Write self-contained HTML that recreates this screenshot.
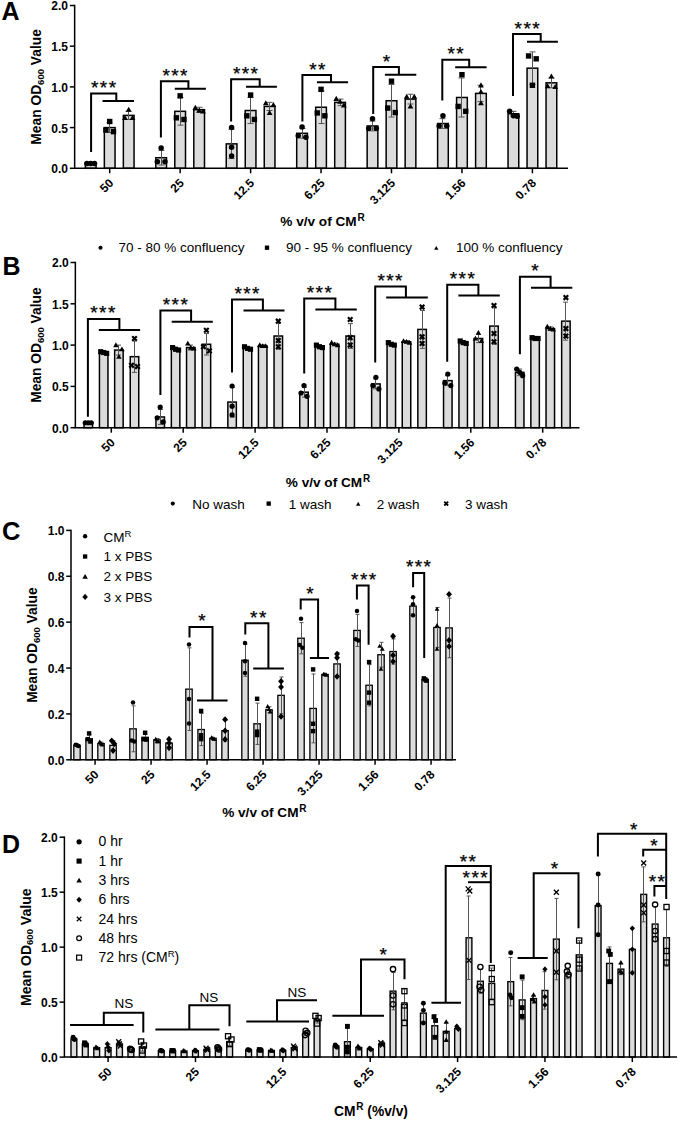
<!DOCTYPE html><html><head><meta charset="utf-8"><style>html,body{margin:0;padding:0;background:#fff;}svg{display:block;}text{font-family:"Liberation Sans",sans-serif;fill:#000;}</style></head><body>
<svg width="685" height="1131" viewBox="0 0 685 1131">
<rect width="685" height="1131" fill="#fff"/>
<rect x="85.35" y="163.42" width="10.70" height="4.88" fill="#dcdcdc" stroke="#000" stroke-width="1.5"/>
<rect x="104.35" y="127.60" width="10.70" height="40.70" fill="#dcdcdc" stroke="#000" stroke-width="1.5"/>
<rect x="123.35" y="115.39" width="10.70" height="52.91" fill="#dcdcdc" stroke="#000" stroke-width="1.5"/>
<path d="M90.50,163.01V163.82M87.50,163.01H93.50M87.50,163.82H93.50" stroke="#555" stroke-width="1" fill="none"/>
<circle cx="86.90" cy="163.42" r="2.75" fill="#000"/>
<circle cx="90.70" cy="163.42" r="2.75" fill="#000"/>
<circle cx="94.50" cy="163.42" r="2.75" fill="#000"/>
<path d="M109.50,122.72V132.48M106.50,122.72H112.50M106.50,132.48H112.50" stroke="#555" stroke-width="1" fill="none"/>
<rect x="107.00" y="118.80" width="5.40" height="5.40" fill="#000"/>
<rect x="103.20" y="127.34" width="5.40" height="5.40" fill="#000"/>
<rect x="110.80" y="128.97" width="5.40" height="5.40" fill="#000"/>
<path d="M128.50,111.32V119.46M125.50,111.32H131.50M125.50,119.46H131.50" stroke="#555" stroke-width="1" fill="none"/>
<path d="M128.70,106.79L131.60,111.87L125.80,111.87Z" fill="#000"/>
<path d="M124.90,114.93L127.80,120.01L122.00,120.01Z" fill="#000"/>
<path d="M132.50,114.93L135.40,120.01L129.60,120.01Z" fill="#000"/>
<rect x="155.80" y="157.72" width="10.70" height="10.58" fill="#dcdcdc" stroke="#000" stroke-width="1.5"/>
<rect x="174.80" y="111.32" width="10.70" height="56.98" fill="#dcdcdc" stroke="#000" stroke-width="1.5"/>
<rect x="193.80" y="109.69" width="10.70" height="58.61" fill="#dcdcdc" stroke="#000" stroke-width="1.5"/>
<path d="M161.50,150.39V165.04M158.50,150.39H164.50M158.50,165.04H164.50" stroke="#555" stroke-width="1" fill="none"/>
<circle cx="161.15" cy="147.95" r="2.75" fill="#000"/>
<circle cx="157.35" cy="161.79" r="2.75" fill="#000"/>
<circle cx="164.95" cy="161.79" r="2.75" fill="#000"/>
<path d="M180.50,97.48V125.16M177.50,97.48H183.50M177.50,125.16H183.50" stroke="#555" stroke-width="1" fill="none"/>
<rect x="177.45" y="93.15" width="5.40" height="5.40" fill="#000"/>
<rect x="173.65" y="115.13" width="5.40" height="5.40" fill="#000"/>
<rect x="181.25" y="116.76" width="5.40" height="5.40" fill="#000"/>
<path d="M199.50,107.25V112.13M196.50,107.25H202.50M196.50,112.13H202.50" stroke="#555" stroke-width="1" fill="none"/>
<path d="M195.35,104.76L198.25,109.83L192.45,109.83Z" fill="#000"/>
<path d="M202.95,108.42L205.85,113.50L200.05,113.50Z" fill="#000"/>
<path d="M199.15,107.61L202.05,112.68L196.25,112.68Z" fill="#000"/>
<rect x="226.25" y="143.88" width="10.70" height="24.42" fill="#dcdcdc" stroke="#000" stroke-width="1.5"/>
<rect x="245.25" y="110.51" width="10.70" height="57.79" fill="#dcdcdc" stroke="#000" stroke-width="1.5"/>
<rect x="264.25" y="106.44" width="10.70" height="61.86" fill="#dcdcdc" stroke="#000" stroke-width="1.5"/>
<path d="M231.50,129.23V158.53M228.50,129.23H234.50M228.50,158.53H234.50" stroke="#555" stroke-width="1" fill="none"/>
<circle cx="231.60" cy="127.60" r="2.75" fill="#000"/>
<circle cx="231.60" cy="147.14" r="2.75" fill="#000"/>
<circle cx="231.60" cy="156.09" r="2.75" fill="#000"/>
<path d="M250.50,97.48V123.53M247.50,97.48H253.50M247.50,123.53H253.50" stroke="#555" stroke-width="1" fill="none"/>
<rect x="247.90" y="92.34" width="5.40" height="5.40" fill="#000"/>
<rect x="244.10" y="113.10" width="5.40" height="5.40" fill="#000"/>
<rect x="251.70" y="116.76" width="5.40" height="5.40" fill="#000"/>
<path d="M269.50,102.37V110.51M266.50,102.37H272.50M266.50,110.51H272.50" stroke="#555" stroke-width="1" fill="none"/>
<path d="M265.80,100.28L268.70,105.36L262.90,105.36Z" fill="#000"/>
<path d="M273.40,101.91L276.30,106.98L270.50,106.98Z" fill="#000"/>
<path d="M269.60,110.05L272.50,115.12L266.70,115.12Z" fill="#000"/>
<rect x="296.70" y="133.30" width="10.70" height="35.00" fill="#dcdcdc" stroke="#000" stroke-width="1.5"/>
<rect x="315.70" y="107.25" width="10.70" height="61.05" fill="#dcdcdc" stroke="#000" stroke-width="1.5"/>
<rect x="334.70" y="102.37" width="10.70" height="65.93" fill="#dcdcdc" stroke="#000" stroke-width="1.5"/>
<path d="M302.50,128.41V138.18M299.50,128.41H305.50M299.50,138.18H305.50" stroke="#555" stroke-width="1" fill="none"/>
<circle cx="302.05" cy="127.11" r="2.75" fill="#000"/>
<circle cx="298.25" cy="135.74" r="2.75" fill="#000"/>
<circle cx="305.85" cy="137.37" r="2.75" fill="#000"/>
<path d="M321.50,90.97V123.53M318.50,90.97H324.50M318.50,123.53H324.50" stroke="#555" stroke-width="1" fill="none"/>
<rect x="318.35" y="86.64" width="5.40" height="5.40" fill="#000"/>
<rect x="314.55" y="110.25" width="5.40" height="5.40" fill="#000"/>
<rect x="322.15" y="113.10" width="5.40" height="5.40" fill="#000"/>
<path d="M340.50,99.11V105.62M337.50,99.11H343.50M337.50,105.62H343.50" stroke="#555" stroke-width="1" fill="none"/>
<path d="M336.25,95.80L339.15,100.88L333.35,100.88Z" fill="#000"/>
<path d="M340.05,98.65L342.95,103.73L337.15,103.73Z" fill="#000"/>
<path d="M343.85,102.31L346.75,107.39L340.95,107.39Z" fill="#000"/>
<rect x="367.15" y="125.97" width="10.70" height="42.33" fill="#dcdcdc" stroke="#000" stroke-width="1.5"/>
<rect x="386.15" y="100.74" width="10.70" height="67.56" fill="#dcdcdc" stroke="#000" stroke-width="1.5"/>
<rect x="405.15" y="99.11" width="10.70" height="69.19" fill="#dcdcdc" stroke="#000" stroke-width="1.5"/>
<path d="M372.50,121.09V130.86M369.50,121.09H375.50M369.50,130.86H375.50" stroke="#555" stroke-width="1" fill="none"/>
<circle cx="372.50" cy="118.65" r="2.75" fill="#000"/>
<circle cx="368.70" cy="128.41" r="2.75" fill="#000"/>
<circle cx="376.30" cy="128.41" r="2.75" fill="#000"/>
<path d="M391.50,84.46V117.02M388.50,84.46H394.50M388.50,117.02H394.50" stroke="#555" stroke-width="1" fill="none"/>
<rect x="388.80" y="78.50" width="5.40" height="5.40" fill="#000"/>
<rect x="385.00" y="105.36" width="5.40" height="5.40" fill="#000"/>
<rect x="392.60" y="109.84" width="5.40" height="5.40" fill="#000"/>
<path d="M410.50,94.23V103.99M407.50,94.23H413.50M407.50,103.99H413.50" stroke="#555" stroke-width="1" fill="none"/>
<path d="M406.70,93.77L409.60,98.84L403.80,98.84Z" fill="#000"/>
<path d="M414.30,93.77L417.20,98.84L411.40,98.84Z" fill="#000"/>
<path d="M410.50,103.54L413.40,108.61L407.60,108.61Z" fill="#000"/>
<rect x="437.60" y="123.53" width="10.70" height="44.77" fill="#dcdcdc" stroke="#000" stroke-width="1.5"/>
<rect x="456.60" y="97.48" width="10.70" height="70.82" fill="#dcdcdc" stroke="#000" stroke-width="1.5"/>
<rect x="475.60" y="93.41" width="10.70" height="74.89" fill="#dcdcdc" stroke="#000" stroke-width="1.5"/>
<path d="M442.50,118.65V128.41M439.50,118.65H445.50M439.50,128.41H445.50" stroke="#555" stroke-width="1" fill="none"/>
<circle cx="442.95" cy="115.80" r="2.75" fill="#000"/>
<circle cx="439.15" cy="125.97" r="2.75" fill="#000"/>
<circle cx="446.75" cy="125.97" r="2.75" fill="#000"/>
<path d="M461.50,77.95V117.02M458.50,77.95H464.50M458.50,117.02H464.50" stroke="#555" stroke-width="1" fill="none"/>
<rect x="459.25" y="71.99" width="5.40" height="5.40" fill="#000"/>
<rect x="455.45" y="103.74" width="5.40" height="5.40" fill="#000"/>
<rect x="463.05" y="108.62" width="5.40" height="5.40" fill="#000"/>
<path d="M480.50,85.27V101.55M477.50,85.27H483.50M477.50,101.55H483.50" stroke="#555" stroke-width="1" fill="none"/>
<path d="M480.95,82.37L483.85,87.45L478.05,87.45Z" fill="#000"/>
<path d="M480.95,88.88L483.85,93.96L478.05,93.96Z" fill="#000"/>
<path d="M480.95,100.28L483.85,105.36L478.05,105.36Z" fill="#000"/>
<rect x="508.05" y="113.76" width="10.70" height="54.54" fill="#dcdcdc" stroke="#000" stroke-width="1.5"/>
<rect x="527.05" y="68.18" width="10.70" height="100.12" fill="#dcdcdc" stroke="#000" stroke-width="1.5"/>
<rect x="546.05" y="82.83" width="10.70" height="85.47" fill="#dcdcdc" stroke="#000" stroke-width="1.5"/>
<path d="M513.50,111.32V116.20M510.50,111.32H516.50M510.50,116.20H516.50" stroke="#555" stroke-width="1" fill="none"/>
<circle cx="509.60" cy="111.32" r="2.75" fill="#000"/>
<circle cx="513.40" cy="115.80" r="2.75" fill="#000"/>
<circle cx="517.20" cy="116.20" r="2.75" fill="#000"/>
<path d="M532.50,51.90V84.46M529.50,51.90H535.50M529.50,84.46H535.50" stroke="#555" stroke-width="1" fill="none"/>
<rect x="525.90" y="53.27" width="5.40" height="5.40" fill="#000"/>
<rect x="533.50" y="56.12" width="5.40" height="5.40" fill="#000"/>
<rect x="529.70" y="82.57" width="5.40" height="5.40" fill="#000"/>
<path d="M551.50,77.95V87.71M548.50,77.95H554.50M548.50,87.71H554.50" stroke="#555" stroke-width="1" fill="none"/>
<path d="M551.40,73.42L554.30,78.49L548.50,78.49Z" fill="#000"/>
<path d="M547.60,83.19L550.50,88.26L544.70,88.26Z" fill="#000"/>
<path d="M555.20,84.00L558.10,89.08L552.30,89.08Z" fill="#000"/>
<path d="M74.65,4.75V168.30H568.00" stroke="#000" stroke-width="1.5" fill="none"/>
<path d="M69.85,168.30H74.65" stroke="#000" stroke-width="1.5"/>
<text x="68.05" y="173.20" font-size="12" font-weight="bold" text-anchor="end" >0.0</text>
<path d="M69.85,127.60H74.65" stroke="#000" stroke-width="1.5"/>
<text x="68.05" y="132.50" font-size="12" font-weight="bold" text-anchor="end" >0.5</text>
<path d="M69.85,86.90H74.65" stroke="#000" stroke-width="1.5"/>
<text x="68.05" y="91.80" font-size="12" font-weight="bold" text-anchor="end" >1.0</text>
<path d="M69.85,46.20H74.65" stroke="#000" stroke-width="1.5"/>
<text x="68.05" y="51.10" font-size="12" font-weight="bold" text-anchor="end" >1.5</text>
<path d="M69.85,5.50H74.65" stroke="#000" stroke-width="1.5"/>
<text x="68.05" y="10.40" font-size="12" font-weight="bold" text-anchor="end" >2.0</text>
<path d="M109.70,168.30V173.30" stroke="#000" stroke-width="1.5"/>
<text x="114.20" y="183.80" font-size="12" font-weight="bold" text-anchor="end" transform="rotate(-45 114.20 183.80)">50</text>
<path d="M180.15,168.30V173.30" stroke="#000" stroke-width="1.5"/>
<text x="184.65" y="183.80" font-size="12" font-weight="bold" text-anchor="end" transform="rotate(-45 184.65 183.80)">25</text>
<path d="M250.60,168.30V173.30" stroke="#000" stroke-width="1.5"/>
<text x="255.10" y="183.80" font-size="12" font-weight="bold" text-anchor="end" transform="rotate(-45 255.10 183.80)">12.5</text>
<path d="M321.05,168.30V173.30" stroke="#000" stroke-width="1.5"/>
<text x="325.55" y="183.80" font-size="12" font-weight="bold" text-anchor="end" transform="rotate(-45 325.55 183.80)">6.25</text>
<path d="M391.50,168.30V173.30" stroke="#000" stroke-width="1.5"/>
<text x="396.00" y="183.80" font-size="12" font-weight="bold" text-anchor="end" transform="rotate(-45 396.00 183.80)">3.125</text>
<path d="M461.95,168.30V173.30" stroke="#000" stroke-width="1.5"/>
<text x="466.45" y="183.80" font-size="12" font-weight="bold" text-anchor="end" transform="rotate(-45 466.45 183.80)">1.56</text>
<path d="M532.40,168.30V173.30" stroke="#000" stroke-width="1.5"/>
<text x="536.90" y="183.80" font-size="12" font-weight="bold" text-anchor="end" transform="rotate(-45 536.90 183.80)">0.78</text>
<text x="40.90" y="86.90" font-size="13.8" font-weight="bold" text-anchor="middle" transform="rotate(-90 40.90 86.90)">Mean OD<tspan font-size="9.5" dy="2.8">600</tspan><tspan dy="-2.8"> Value</tspan></text>
<path d="M91.1,151.9V93.4H116.3V101M102.5,101H134" stroke="#000" stroke-width="2.0" fill="none"/>
<text x="104.25" y="93.90" font-size="19" text-anchor="middle" letter-spacing="1.4" stroke="#000" stroke-width="0.25">***</text>
<path d="M160.9,137.6V81.3H188.4V88.7M174.8,88.7H205.9" stroke="#000" stroke-width="2.0" fill="none"/>
<text x="175.70" y="81.80" font-size="19" text-anchor="middle" letter-spacing="1.4" stroke="#000" stroke-width="0.25">***</text>
<path d="M231.1,121.4V79.3H259.7V86.7M246,86.7H276.9" stroke="#000" stroke-width="2.0" fill="none"/>
<text x="246.20" y="79.80" font-size="19" text-anchor="middle" letter-spacing="1.4" stroke="#000" stroke-width="0.25">***</text>
<path d="M302.4,121.4V75.1H331V82.3M317,82.3H348.1" stroke="#000" stroke-width="2.0" fill="none"/>
<text x="318.00" y="75.60" font-size="19" text-anchor="middle" letter-spacing="1.4" stroke="#000" stroke-width="0.25">**</text>
<path d="M373.2,114V67.1H398.9V74.7M384.9,74.7H416.3" stroke="#000" stroke-width="2.0" fill="none"/>
<text x="387.20" y="67.60" font-size="19" text-anchor="middle" letter-spacing="1.4" stroke="#000" stroke-width="0.25">*</text>
<path d="M442.3,100.5V59.8H469.2V67.3M455.2,67.3H486.6" stroke="#000" stroke-width="2.0" fill="none"/>
<text x="456.30" y="60.30" font-size="19" text-anchor="middle" letter-spacing="1.4" stroke="#000" stroke-width="0.25">**</text>
<path d="M513,96V34.1H540.7V41.8M527,41.8H557.9" stroke="#000" stroke-width="2.0" fill="none"/>
<text x="527.80" y="34.60" font-size="19" text-anchor="middle" letter-spacing="1.4" stroke="#000" stroke-width="0.25">***</text>
<rect x="84.05" y="422.74" width="8.50" height="4.96" fill="#dcdcdc" stroke="#000" stroke-width="1.5"/>
<rect x="99.45" y="352.53" width="8.50" height="75.17" fill="#dcdcdc" stroke="#000" stroke-width="1.5"/>
<rect x="114.65" y="350.06" width="8.50" height="77.64" fill="#dcdcdc" stroke="#000" stroke-width="1.5"/>
<rect x="130.25" y="356.66" width="8.50" height="71.04" fill="#dcdcdc" stroke="#000" stroke-width="1.5"/>
<path d="M88.50,422.33V423.16M86.00,422.33H91.00M86.00,423.16H91.00" stroke="#555" stroke-width="1" fill="none"/>
<circle cx="85.30" cy="422.74" r="2.61" fill="#000"/>
<circle cx="88.30" cy="422.74" r="2.61" fill="#000"/>
<circle cx="91.30" cy="422.74" r="2.61" fill="#000"/>
<path d="M103.50,351.71V353.36M101.00,351.71H106.00M101.00,353.36H106.00" stroke="#555" stroke-width="1" fill="none"/>
<rect x="98.14" y="349.14" width="5.13" height="5.13" fill="#000"/>
<rect x="101.14" y="349.97" width="5.13" height="5.13" fill="#000"/>
<rect x="104.14" y="350.80" width="5.13" height="5.13" fill="#000"/>
<path d="M118.50,345.10V355.01M116.00,345.10H121.00M116.00,355.01H121.00" stroke="#555" stroke-width="1" fill="none"/>
<path d="M115.90,342.35L118.65,347.17L113.14,347.17Z" fill="#000"/>
<path d="M121.90,346.48L124.65,351.30L119.14,351.30Z" fill="#000"/>
<path d="M118.90,353.91L121.65,358.73L116.14,358.73Z" fill="#000"/>
<path d="M134.50,340.97V372.36M132.00,340.97H137.00M132.00,372.36H137.00" stroke="#555" stroke-width="1" fill="none"/>
<path d="M132.22,336.21L136.78,340.77M136.78,336.21L132.22,340.77" stroke="#000" stroke-width="2.18" fill="none"/>
<path d="M129.22,363.06L133.78,367.62M133.78,363.06L129.22,367.62" stroke="#000" stroke-width="2.18" fill="none"/>
<path d="M135.22,364.30L139.78,368.86M139.78,364.30L135.22,368.86" stroke="#000" stroke-width="2.18" fill="none"/>
<rect x="155.95" y="416.96" width="8.50" height="10.74" fill="#dcdcdc" stroke="#000" stroke-width="1.5"/>
<rect x="171.35" y="349.23" width="8.50" height="78.47" fill="#dcdcdc" stroke="#000" stroke-width="1.5"/>
<rect x="186.55" y="347.58" width="8.50" height="80.12" fill="#dcdcdc" stroke="#000" stroke-width="1.5"/>
<rect x="202.15" y="344.27" width="8.50" height="83.43" fill="#dcdcdc" stroke="#000" stroke-width="1.5"/>
<path d="M160.50,409.53V424.40M158.00,409.53H163.00M158.00,424.40H163.00" stroke="#555" stroke-width="1" fill="none"/>
<circle cx="160.20" cy="407.05" r="2.61" fill="#000"/>
<circle cx="157.20" cy="417.79" r="2.61" fill="#000"/>
<circle cx="163.20" cy="421.92" r="2.61" fill="#000"/>
<path d="M175.50,347.58V350.88M173.00,347.58H178.00M173.00,350.88H178.00" stroke="#555" stroke-width="1" fill="none"/>
<rect x="170.03" y="345.01" width="5.13" height="5.13" fill="#000"/>
<rect x="173.03" y="346.67" width="5.13" height="5.13" fill="#000"/>
<rect x="176.03" y="347.49" width="5.13" height="5.13" fill="#000"/>
<path d="M190.50,345.10V350.06M188.00,345.10H193.00M188.00,350.06H193.00" stroke="#555" stroke-width="1" fill="none"/>
<path d="M187.80,340.69L190.55,345.51L185.04,345.51Z" fill="#000"/>
<path d="M190.80,344.82L193.55,349.64L188.04,349.64Z" fill="#000"/>
<path d="M193.80,345.65L196.55,350.47L191.04,350.47Z" fill="#000"/>
<path d="M206.50,333.54V355.01M204.00,333.54H209.00M204.00,355.01H209.00" stroke="#555" stroke-width="1" fill="none"/>
<path d="M204.12,327.95L208.68,332.51M208.68,327.95L204.12,332.51" stroke="#000" stroke-width="2.18" fill="none"/>
<path d="M201.12,344.47L205.68,349.03M205.68,344.47L201.12,349.03" stroke="#000" stroke-width="2.18" fill="none"/>
<path d="M207.12,348.60L211.68,353.16M211.68,348.60L207.12,353.16" stroke="#000" stroke-width="2.18" fill="none"/>
<rect x="227.85" y="402.09" width="8.50" height="25.61" fill="#dcdcdc" stroke="#000" stroke-width="1.5"/>
<rect x="243.25" y="348.40" width="8.50" height="79.30" fill="#dcdcdc" stroke="#000" stroke-width="1.5"/>
<rect x="258.45" y="345.93" width="8.50" height="81.77" fill="#dcdcdc" stroke="#000" stroke-width="1.5"/>
<rect x="274.05" y="336.01" width="8.50" height="91.69" fill="#dcdcdc" stroke="#000" stroke-width="1.5"/>
<path d="M232.50,387.23V416.96M230.00,387.23H235.00M230.00,416.96H235.00" stroke="#555" stroke-width="1" fill="none"/>
<circle cx="232.10" cy="385.99" r="2.61" fill="#000"/>
<circle cx="232.10" cy="406.22" r="2.61" fill="#000"/>
<circle cx="232.10" cy="414.90" r="2.61" fill="#000"/>
<path d="M247.50,346.75V350.06M245.00,346.75H250.00M245.00,350.06H250.00" stroke="#555" stroke-width="1" fill="none"/>
<rect x="241.94" y="344.19" width="5.13" height="5.13" fill="#000"/>
<rect x="244.94" y="345.84" width="5.13" height="5.13" fill="#000"/>
<rect x="247.94" y="346.67" width="5.13" height="5.13" fill="#000"/>
<path d="M262.50,344.69V347.16M260.00,344.69H265.00M260.00,347.16H265.00" stroke="#555" stroke-width="1" fill="none"/>
<path d="M259.70,342.35L262.46,347.17L256.95,347.17Z" fill="#000"/>
<path d="M262.70,343.17L265.46,347.99L259.95,347.99Z" fill="#000"/>
<path d="M265.70,343.17L268.46,347.99L262.95,347.99Z" fill="#000"/>
<path d="M278.50,322.80V349.23M276.00,322.80H281.00M276.00,349.23H281.00" stroke="#555" stroke-width="1" fill="none"/>
<path d="M276.02,318.87L280.58,323.43M280.58,318.87L276.02,323.43" stroke="#000" stroke-width="2.18" fill="none"/>
<path d="M276.02,338.28L280.58,342.84M280.58,338.28L276.02,342.84" stroke="#000" stroke-width="2.18" fill="none"/>
<path d="M276.02,344.47L280.58,349.03M280.58,344.47L276.02,349.03" stroke="#000" stroke-width="2.18" fill="none"/>
<rect x="299.75" y="392.18" width="8.50" height="35.52" fill="#dcdcdc" stroke="#000" stroke-width="1.5"/>
<rect x="315.15" y="346.75" width="8.50" height="80.95" fill="#dcdcdc" stroke="#000" stroke-width="1.5"/>
<rect x="330.35" y="344.27" width="8.50" height="83.43" fill="#dcdcdc" stroke="#000" stroke-width="1.5"/>
<rect x="345.95" y="336.01" width="8.50" height="91.69" fill="#dcdcdc" stroke="#000" stroke-width="1.5"/>
<path d="M304.50,387.23V397.14M302.00,387.23H307.00M302.00,397.14H307.00" stroke="#555" stroke-width="1" fill="none"/>
<circle cx="304.00" cy="385.57" r="2.61" fill="#000"/>
<circle cx="301.00" cy="393.01" r="2.61" fill="#000"/>
<circle cx="307.00" cy="396.31" r="2.61" fill="#000"/>
<path d="M319.50,345.10V348.40M317.00,345.10H322.00M317.00,348.40H322.00" stroke="#555" stroke-width="1" fill="none"/>
<rect x="313.83" y="342.54" width="5.13" height="5.13" fill="#000"/>
<rect x="316.83" y="344.19" width="5.13" height="5.13" fill="#000"/>
<rect x="319.83" y="345.01" width="5.13" height="5.13" fill="#000"/>
<path d="M334.50,343.03V345.51M332.00,343.03H337.00M332.00,345.51H337.00" stroke="#555" stroke-width="1" fill="none"/>
<path d="M331.60,339.87L334.36,344.69L328.85,344.69Z" fill="#000"/>
<path d="M334.60,341.52L337.36,346.34L331.85,346.34Z" fill="#000"/>
<path d="M337.60,342.35L340.36,347.17L334.85,347.17Z" fill="#000"/>
<path d="M350.50,323.62V348.40M348.00,323.62H353.00M348.00,348.40H353.00" stroke="#555" stroke-width="1" fill="none"/>
<path d="M347.92,317.21L352.48,321.77M352.48,317.21L347.92,321.77" stroke="#000" stroke-width="2.18" fill="none"/>
<path d="M347.92,335.39L352.48,339.95M352.48,335.39L347.92,339.95" stroke="#000" stroke-width="2.18" fill="none"/>
<path d="M347.92,342.82L352.48,347.38M352.48,342.82L347.92,347.38" stroke="#000" stroke-width="2.18" fill="none"/>
<rect x="371.65" y="383.92" width="8.50" height="43.78" fill="#dcdcdc" stroke="#000" stroke-width="1.5"/>
<rect x="387.05" y="344.27" width="8.50" height="83.43" fill="#dcdcdc" stroke="#000" stroke-width="1.5"/>
<rect x="402.25" y="341.80" width="8.50" height="85.90" fill="#dcdcdc" stroke="#000" stroke-width="1.5"/>
<rect x="417.85" y="329.41" width="8.50" height="98.29" fill="#dcdcdc" stroke="#000" stroke-width="1.5"/>
<path d="M375.50,378.97V388.88M373.00,378.97H378.00M373.00,388.88H378.00" stroke="#555" stroke-width="1" fill="none"/>
<circle cx="375.90" cy="377.31" r="2.61" fill="#000"/>
<circle cx="372.90" cy="385.57" r="2.61" fill="#000"/>
<circle cx="378.90" cy="388.88" r="2.61" fill="#000"/>
<path d="M391.50,343.03V345.51M389.00,343.03H394.00M389.00,345.51H394.00" stroke="#555" stroke-width="1" fill="none"/>
<rect x="385.74" y="340.06" width="5.13" height="5.13" fill="#000"/>
<rect x="388.74" y="341.71" width="5.13" height="5.13" fill="#000"/>
<rect x="391.74" y="342.54" width="5.13" height="5.13" fill="#000"/>
<path d="M406.50,340.56V343.03M404.00,340.56H409.00M404.00,343.03H409.00" stroke="#555" stroke-width="1" fill="none"/>
<path d="M403.50,338.21L406.26,343.04L400.75,343.04Z" fill="#000"/>
<path d="M406.50,339.04L409.26,343.86L403.75,343.86Z" fill="#000"/>
<path d="M409.50,339.87L412.26,344.69L406.75,344.69Z" fill="#000"/>
<path d="M422.50,310.41V348.40M420.00,310.41H425.00M420.00,348.40H425.00" stroke="#555" stroke-width="1" fill="none"/>
<path d="M419.82,304.82L424.38,309.38M424.38,304.82L419.82,309.38" stroke="#000" stroke-width="2.18" fill="none"/>
<path d="M419.82,334.56L424.38,339.12M424.38,334.56L419.82,339.12" stroke="#000" stroke-width="2.18" fill="none"/>
<path d="M419.82,341.17L424.38,345.73M424.38,341.17L419.82,345.73" stroke="#000" stroke-width="2.18" fill="none"/>
<rect x="443.55" y="380.62" width="8.50" height="47.08" fill="#dcdcdc" stroke="#000" stroke-width="1.5"/>
<rect x="458.95" y="342.62" width="8.50" height="85.08" fill="#dcdcdc" stroke="#000" stroke-width="1.5"/>
<rect x="474.15" y="338.49" width="8.50" height="89.21" fill="#dcdcdc" stroke="#000" stroke-width="1.5"/>
<rect x="489.75" y="326.10" width="8.50" height="101.60" fill="#dcdcdc" stroke="#000" stroke-width="1.5"/>
<path d="M447.50,375.66V385.57M445.00,375.66H450.00M445.00,385.57H450.00" stroke="#555" stroke-width="1" fill="none"/>
<circle cx="447.80" cy="374.01" r="2.61" fill="#000"/>
<circle cx="444.80" cy="383.10" r="2.61" fill="#000"/>
<circle cx="450.80" cy="385.57" r="2.61" fill="#000"/>
<path d="M463.50,341.38V343.86M461.00,341.38H466.00M461.00,343.86H466.00" stroke="#555" stroke-width="1" fill="none"/>
<rect x="457.63" y="338.40" width="5.13" height="5.13" fill="#000"/>
<rect x="460.63" y="340.06" width="5.13" height="5.13" fill="#000"/>
<rect x="463.63" y="340.88" width="5.13" height="5.13" fill="#000"/>
<path d="M478.50,334.36V342.62M476.00,334.36H481.00M476.00,342.62H481.00" stroke="#555" stroke-width="1" fill="none"/>
<path d="M478.40,329.96L481.16,334.78L475.65,334.78Z" fill="#000"/>
<path d="M475.40,335.74L478.16,340.56L472.65,340.56Z" fill="#000"/>
<path d="M481.40,338.21L484.16,343.04L478.65,343.04Z" fill="#000"/>
<path d="M494.50,307.93V344.27M492.00,307.93H497.00M492.00,344.27H497.00" stroke="#555" stroke-width="1" fill="none"/>
<path d="M491.72,303.17L496.28,307.73M496.28,303.17L491.72,307.73" stroke="#000" stroke-width="2.18" fill="none"/>
<path d="M491.72,331.26L496.28,335.82M496.28,331.26L491.72,335.82" stroke="#000" stroke-width="2.18" fill="none"/>
<path d="M491.72,339.52L496.28,344.08M496.28,339.52L491.72,344.08" stroke="#000" stroke-width="2.18" fill="none"/>
<rect x="515.45" y="372.36" width="8.50" height="55.34" fill="#dcdcdc" stroke="#000" stroke-width="1.5"/>
<rect x="530.85" y="338.49" width="8.50" height="89.21" fill="#dcdcdc" stroke="#000" stroke-width="1.5"/>
<rect x="546.05" y="328.58" width="8.50" height="99.12" fill="#dcdcdc" stroke="#000" stroke-width="1.5"/>
<rect x="561.65" y="321.15" width="8.50" height="106.55" fill="#dcdcdc" stroke="#000" stroke-width="1.5"/>
<path d="M519.50,369.05V375.66M517.00,369.05H522.00M517.00,375.66H522.00" stroke="#555" stroke-width="1" fill="none"/>
<circle cx="516.70" cy="369.05" r="2.61" fill="#000"/>
<circle cx="519.70" cy="372.36" r="2.61" fill="#000"/>
<circle cx="522.70" cy="375.66" r="2.61" fill="#000"/>
<path d="M535.50,337.67V339.32M533.00,337.67H538.00M533.00,339.32H538.00" stroke="#555" stroke-width="1" fill="none"/>
<rect x="529.53" y="335.10" width="5.13" height="5.13" fill="#000"/>
<rect x="532.53" y="335.93" width="5.13" height="5.13" fill="#000"/>
<rect x="535.53" y="335.93" width="5.13" height="5.13" fill="#000"/>
<path d="M550.50,326.93V330.23M548.00,326.93H553.00M548.00,330.23H553.00" stroke="#555" stroke-width="1" fill="none"/>
<path d="M547.30,323.76L550.06,328.58L544.55,328.58Z" fill="#000"/>
<path d="M550.30,325.82L553.06,330.65L547.55,330.65Z" fill="#000"/>
<path d="M553.30,326.65L556.06,331.47L550.55,331.47Z" fill="#000"/>
<path d="M565.50,302.15V340.14M563.00,302.15H568.00M563.00,340.14H568.00" stroke="#555" stroke-width="1" fill="none"/>
<path d="M563.62,295.33L568.18,299.88M568.18,295.33L563.62,299.88" stroke="#000" stroke-width="2.18" fill="none"/>
<path d="M563.62,326.30L568.18,330.86M568.18,326.30L563.62,330.86" stroke="#000" stroke-width="2.18" fill="none"/>
<path d="M563.62,333.73L568.18,338.29M568.18,333.73L563.62,338.29" stroke="#000" stroke-width="2.18" fill="none"/>
<path d="M75.35,261.75V427.70H579.50" stroke="#000" stroke-width="1.5" fill="none"/>
<path d="M70.55,427.70H75.35" stroke="#000" stroke-width="1.5"/>
<text x="68.75" y="432.60" font-size="12" font-weight="bold" text-anchor="end" >0.0</text>
<path d="M70.55,386.40H75.35" stroke="#000" stroke-width="1.5"/>
<text x="68.75" y="391.30" font-size="12" font-weight="bold" text-anchor="end" >0.5</text>
<path d="M70.55,345.10H75.35" stroke="#000" stroke-width="1.5"/>
<text x="68.75" y="350.00" font-size="12" font-weight="bold" text-anchor="end" >1.0</text>
<path d="M70.55,303.80H75.35" stroke="#000" stroke-width="1.5"/>
<text x="68.75" y="308.70" font-size="12" font-weight="bold" text-anchor="end" >1.5</text>
<path d="M70.55,262.50H75.35" stroke="#000" stroke-width="1.5"/>
<text x="68.75" y="267.40" font-size="12" font-weight="bold" text-anchor="end" >2.0</text>
<path d="M111.30,427.70V432.70" stroke="#000" stroke-width="1.5"/>
<text x="115.80" y="443.20" font-size="12" font-weight="bold" text-anchor="end" transform="rotate(-45 115.80 443.20)">50</text>
<path d="M183.20,427.70V432.70" stroke="#000" stroke-width="1.5"/>
<text x="187.70" y="443.20" font-size="12" font-weight="bold" text-anchor="end" transform="rotate(-45 187.70 443.20)">25</text>
<path d="M255.10,427.70V432.70" stroke="#000" stroke-width="1.5"/>
<text x="259.60" y="443.20" font-size="12" font-weight="bold" text-anchor="end" transform="rotate(-45 259.60 443.20)">12.5</text>
<path d="M327.00,427.70V432.70" stroke="#000" stroke-width="1.5"/>
<text x="331.50" y="443.20" font-size="12" font-weight="bold" text-anchor="end" transform="rotate(-45 331.50 443.20)">6.25</text>
<path d="M398.90,427.70V432.70" stroke="#000" stroke-width="1.5"/>
<text x="403.40" y="443.20" font-size="12" font-weight="bold" text-anchor="end" transform="rotate(-45 403.40 443.20)">3.125</text>
<path d="M470.80,427.70V432.70" stroke="#000" stroke-width="1.5"/>
<text x="475.30" y="443.20" font-size="12" font-weight="bold" text-anchor="end" transform="rotate(-45 475.30 443.20)">1.56</text>
<path d="M542.70,427.70V432.70" stroke="#000" stroke-width="1.5"/>
<text x="547.20" y="443.20" font-size="12" font-weight="bold" text-anchor="end" transform="rotate(-45 547.20 443.20)">0.78</text>
<text x="40.90" y="345.10" font-size="13.8" font-weight="bold" text-anchor="middle" transform="rotate(-90 40.90 345.10)">Mean OD<tspan font-size="9.5" dy="2.8">600</tspan><tspan dy="-2.8"> Value</tspan></text>
<path d="M87.9,416.7V318.9H119.4V329.9M98.8,329.9H140.1" stroke="#000" stroke-width="2.0" fill="none"/>
<text x="103.50" y="319.40" font-size="19" text-anchor="middle" letter-spacing="1.4" stroke="#000" stroke-width="0.25">***</text>
<path d="M160.4,395V310.4H191.1V321.7M171.7,321.7H212.8" stroke="#000" stroke-width="2.0" fill="none"/>
<text x="176.00" y="310.90" font-size="19" text-anchor="middle" letter-spacing="1.4" stroke="#000" stroke-width="0.25">***</text>
<path d="M232,372.6V299.4H262.9V310.5M243.5,310.5H284.5" stroke="#000" stroke-width="2.0" fill="none"/>
<text x="247.60" y="299.90" font-size="19" text-anchor="middle" letter-spacing="1.4" stroke="#000" stroke-width="0.25">***</text>
<path d="M304.2,373.5V298.4H335.4V309.5M315.4,309.5H356.8" stroke="#000" stroke-width="2.0" fill="none"/>
<text x="320.00" y="298.90" font-size="19" text-anchor="middle" letter-spacing="1.4" stroke="#000" stroke-width="0.25">***</text>
<path d="M375.2,362.4V286.4H405.9V297.6M386.2,297.6H427.8" stroke="#000" stroke-width="2.0" fill="none"/>
<text x="390.70" y="286.90" font-size="19" text-anchor="middle" letter-spacing="1.4" stroke="#000" stroke-width="0.25">***</text>
<path d="M447.2,361.8V284.7H478.4V295.6M458.4,295.6H499.8" stroke="#000" stroke-width="2.0" fill="none"/>
<text x="463.00" y="285.20" font-size="19" text-anchor="middle" letter-spacing="1.4" stroke="#000" stroke-width="0.25">***</text>
<path d="M519.9,354.2V276.7H550.6V287.8M531,287.8H572.3" stroke="#000" stroke-width="2.0" fill="none"/>
<text x="535.60" y="277.20" font-size="19" text-anchor="middle" letter-spacing="1.4" stroke="#000" stroke-width="0.25">*</text>
<rect x="73.80" y="745.35" width="6.40" height="14.45" fill="#dcdcdc" stroke="#000" stroke-width="1.3"/>
<rect x="85.90" y="738.70" width="6.40" height="21.10" fill="#dcdcdc" stroke="#000" stroke-width="1.3"/>
<rect x="97.80" y="743.51" width="6.40" height="16.29" fill="#dcdcdc" stroke="#000" stroke-width="1.3"/>
<rect x="109.85" y="745.35" width="6.40" height="14.45" fill="#dcdcdc" stroke="#000" stroke-width="1.3"/>
<circle cx="75.70" cy="744.66" r="2.25" fill="#000"/>
<circle cx="77.00" cy="745.35" r="2.25" fill="#000"/>
<circle cx="78.30" cy="746.04" r="2.25" fill="#000"/>
<path d="M89.50,734.57V742.82M87.50,734.57H91.50M87.50,742.82H91.50" stroke="#555" stroke-width="1" fill="none"/>
<rect x="86.89" y="731.20" width="4.43" height="4.43" fill="#000"/>
<rect x="85.59" y="736.94" width="4.43" height="4.43" fill="#000"/>
<rect x="88.19" y="739.23" width="4.43" height="4.43" fill="#000"/>
<path d="M101.50,742.14V744.89M99.50,742.14H103.50M99.50,744.89H103.50" stroke="#555" stroke-width="1" fill="none"/>
<path d="M99.70,739.53L102.08,743.69L97.32,743.69Z" fill="#000"/>
<path d="M101.00,741.36L103.38,745.53L98.62,745.53Z" fill="#000"/>
<path d="M102.30,742.28L104.68,746.44L99.92,746.44Z" fill="#000"/>
<path d="M113.50,740.76V749.94M111.50,740.76H115.50M111.50,749.94H115.50" stroke="#555" stroke-width="1" fill="none"/>
<path d="M111.75,737.48L114.70,740.76L111.75,744.04L108.80,740.76Z" fill="#000"/>
<path d="M113.05,747.34L116.00,750.62L113.05,753.90L110.10,750.62Z" fill="#000"/>
<path d="M114.35,740.46L117.30,743.74L114.35,747.02L111.40,743.74Z" fill="#000"/>
<rect x="129.80" y="728.83" width="6.40" height="30.97" fill="#dcdcdc" stroke="#000" stroke-width="1.3"/>
<rect x="141.90" y="737.32" width="6.40" height="22.48" fill="#dcdcdc" stroke="#000" stroke-width="1.3"/>
<rect x="153.80" y="739.84" width="6.40" height="19.96" fill="#dcdcdc" stroke="#000" stroke-width="1.3"/>
<rect x="165.85" y="743.05" width="6.40" height="16.75" fill="#dcdcdc" stroke="#000" stroke-width="1.3"/>
<path d="M133.50,705.89V751.77M131.50,705.89H135.50M131.50,751.77H135.50" stroke="#555" stroke-width="1" fill="none"/>
<circle cx="133.00" cy="702.45" r="2.25" fill="#000"/>
<circle cx="131.70" cy="740.53" r="2.25" fill="#000"/>
<circle cx="134.30" cy="741.45" r="2.25" fill="#000"/>
<path d="M145.50,733.88V740.76M143.50,733.88H147.50M143.50,740.76H147.50" stroke="#555" stroke-width="1" fill="none"/>
<rect x="142.89" y="730.52" width="4.43" height="4.43" fill="#000"/>
<rect x="141.59" y="736.94" width="4.43" height="4.43" fill="#000"/>
<rect x="144.19" y="737.40" width="4.43" height="4.43" fill="#000"/>
<path d="M157.50,738.47V741.22M155.50,738.47H159.50M155.50,741.22H159.50" stroke="#555" stroke-width="1" fill="none"/>
<path d="M155.70,736.78L158.08,740.94L153.32,740.94Z" fill="#000"/>
<path d="M157.00,739.07L159.38,743.23L154.62,743.23Z" fill="#000"/>
<path d="M158.30,739.07L160.68,743.23L155.92,743.23Z" fill="#000"/>
<path d="M169.50,738.92V747.18M167.50,738.92H171.50M167.50,747.18H171.50" stroke="#555" stroke-width="1" fill="none"/>
<path d="M169.05,735.87L172.00,739.15L169.05,742.43L166.10,739.15Z" fill="#000"/>
<path d="M169.05,739.77L172.00,743.05L169.05,746.33L166.10,743.05Z" fill="#000"/>
<path d="M169.05,744.59L172.00,747.87L169.05,751.15L166.10,747.87Z" fill="#000"/>
<rect x="185.80" y="689.14" width="6.40" height="70.66" fill="#dcdcdc" stroke="#000" stroke-width="1.3"/>
<rect x="197.90" y="729.52" width="6.40" height="30.28" fill="#dcdcdc" stroke="#000" stroke-width="1.3"/>
<rect x="209.80" y="738.24" width="6.40" height="21.56" fill="#dcdcdc" stroke="#000" stroke-width="1.3"/>
<rect x="221.85" y="730.67" width="6.40" height="29.13" fill="#dcdcdc" stroke="#000" stroke-width="1.3"/>
<path d="M189.50,647.85V730.44M187.50,647.85H191.50M187.50,730.44H191.50" stroke="#555" stroke-width="1" fill="none"/>
<circle cx="189.00" cy="644.41" r="2.25" fill="#000"/>
<circle cx="189.00" cy="699.01" r="2.25" fill="#000"/>
<circle cx="189.00" cy="723.55" r="2.25" fill="#000"/>
<path d="M201.50,713.46V745.58M199.50,713.46H203.50M199.50,745.58H203.50" stroke="#555" stroke-width="1" fill="none"/>
<rect x="198.89" y="708.72" width="4.43" height="4.43" fill="#000"/>
<rect x="198.89" y="733.04" width="4.43" height="4.43" fill="#000"/>
<rect x="198.89" y="736.94" width="4.43" height="4.43" fill="#000"/>
<path d="M211.70,735.17L214.08,739.33L209.32,739.33Z" fill="#000"/>
<path d="M213.00,736.09L215.38,740.25L210.62,740.25Z" fill="#000"/>
<path d="M214.30,736.78L216.68,740.94L211.92,740.94Z" fill="#000"/>
<path d="M225.50,720.34V740.99M223.50,720.34H227.50M223.50,740.99H227.50" stroke="#555" stroke-width="1" fill="none"/>
<path d="M225.05,716.15L228.00,719.43L225.05,722.71L222.10,719.43Z" fill="#000"/>
<path d="M225.05,727.39L228.00,730.67L225.05,733.95L222.10,730.67Z" fill="#000"/>
<path d="M225.05,736.10L228.00,739.38L225.05,742.66L222.10,739.38Z" fill="#000"/>
<rect x="241.80" y="660.24" width="6.40" height="99.56" fill="#dcdcdc" stroke="#000" stroke-width="1.3"/>
<rect x="253.90" y="723.78" width="6.40" height="36.02" fill="#dcdcdc" stroke="#000" stroke-width="1.3"/>
<rect x="265.80" y="709.79" width="6.40" height="50.01" fill="#dcdcdc" stroke="#000" stroke-width="1.3"/>
<rect x="277.85" y="695.34" width="6.40" height="64.46" fill="#dcdcdc" stroke="#000" stroke-width="1.3"/>
<path d="M245.50,644.18V676.30M243.50,644.18H247.50M243.50,676.30H247.50" stroke="#555" stroke-width="1" fill="none"/>
<circle cx="245.00" cy="643.04" r="2.25" fill="#000"/>
<circle cx="245.00" cy="661.16" r="2.25" fill="#000"/>
<circle cx="245.00" cy="673.09" r="2.25" fill="#000"/>
<path d="M257.50,703.14V744.43M255.50,703.14H259.50M255.50,744.43H259.50" stroke="#555" stroke-width="1" fill="none"/>
<rect x="254.89" y="696.57" width="4.43" height="4.43" fill="#000"/>
<rect x="254.89" y="729.37" width="4.43" height="4.43" fill="#000"/>
<rect x="254.89" y="732.81" width="4.43" height="4.43" fill="#000"/>
<path d="M269.50,706.81V712.77M267.50,706.81H271.50M267.50,712.77H271.50" stroke="#555" stroke-width="1" fill="none"/>
<path d="M267.70,703.97L270.08,708.13L265.32,708.13Z" fill="#000"/>
<path d="M269.00,706.95L271.38,711.12L266.62,711.12Z" fill="#000"/>
<path d="M270.30,709.25L272.68,713.41L267.92,713.41Z" fill="#000"/>
<path d="M281.50,676.99V713.69M279.50,676.99H283.50M279.50,713.69H283.50" stroke="#555" stroke-width="1" fill="none"/>
<path d="M281.05,678.07L284.00,681.35L281.05,684.63L278.10,681.35Z" fill="#000"/>
<path d="M281.05,683.80L284.00,687.08L281.05,690.36L278.10,687.08Z" fill="#000"/>
<path d="M281.05,713.16L284.00,716.44L281.05,719.72L278.10,716.44Z" fill="#000"/>
<rect x="297.80" y="638.22" width="6.40" height="121.58" fill="#dcdcdc" stroke="#000" stroke-width="1.3"/>
<rect x="309.90" y="708.41" width="6.40" height="51.39" fill="#dcdcdc" stroke="#000" stroke-width="1.3"/>
<rect x="321.80" y="674.46" width="6.40" height="85.34" fill="#dcdcdc" stroke="#000" stroke-width="1.3"/>
<rect x="333.85" y="663.91" width="6.40" height="95.89" fill="#dcdcdc" stroke="#000" stroke-width="1.3"/>
<path d="M301.50,622.62V653.82M299.50,622.62H303.50M299.50,653.82H303.50" stroke="#555" stroke-width="1" fill="none"/>
<circle cx="301.00" cy="618.72" r="2.25" fill="#000"/>
<circle cx="299.70" cy="645.10" r="2.25" fill="#000"/>
<circle cx="302.30" cy="647.85" r="2.25" fill="#000"/>
<path d="M313.50,674.00V742.82M311.50,674.00H315.50M311.50,742.82H315.50" stroke="#555" stroke-width="1" fill="none"/>
<rect x="310.89" y="667.20" width="4.43" height="4.43" fill="#000"/>
<rect x="310.89" y="721.57" width="4.43" height="4.43" fill="#000"/>
<rect x="310.89" y="728.91" width="4.43" height="4.43" fill="#000"/>
<path d="M323.70,671.63L326.08,675.79L321.32,675.79Z" fill="#000"/>
<path d="M325.00,672.09L327.38,676.25L322.62,676.25Z" fill="#000"/>
<path d="M326.30,672.54L328.68,676.71L323.92,676.71Z" fill="#000"/>
<path d="M337.50,652.44V675.38M335.50,652.44H339.50M335.50,675.38H339.50" stroke="#555" stroke-width="1" fill="none"/>
<path d="M337.05,650.77L340.00,654.05L337.05,657.33L334.10,654.05Z" fill="#000"/>
<path d="M337.05,654.44L340.00,657.72L337.05,661.00L334.10,657.72Z" fill="#000"/>
<path d="M337.05,673.25L340.00,676.53L337.05,679.81L334.10,676.53Z" fill="#000"/>
<rect x="353.80" y="630.42" width="6.40" height="129.38" fill="#dcdcdc" stroke="#000" stroke-width="1.3"/>
<rect x="365.90" y="685.25" width="6.40" height="74.55" fill="#dcdcdc" stroke="#000" stroke-width="1.3"/>
<rect x="377.80" y="654.73" width="6.40" height="105.07" fill="#dcdcdc" stroke="#000" stroke-width="1.3"/>
<rect x="389.85" y="651.52" width="6.40" height="108.28" fill="#dcdcdc" stroke="#000" stroke-width="1.3"/>
<path d="M357.50,614.36V646.48M355.50,614.36H359.50M355.50,646.48H359.50" stroke="#555" stroke-width="1" fill="none"/>
<circle cx="357.00" cy="610.92" r="2.25" fill="#000"/>
<circle cx="355.70" cy="639.14" r="2.25" fill="#000"/>
<circle cx="358.30" cy="640.51" r="2.25" fill="#000"/>
<path d="M369.50,664.60V705.89M367.50,664.60H371.50M367.50,705.89H371.50" stroke="#555" stroke-width="1" fill="none"/>
<rect x="366.89" y="659.86" width="4.43" height="4.43" fill="#000"/>
<rect x="366.89" y="690.37" width="4.43" height="4.43" fill="#000"/>
<rect x="366.89" y="700.47" width="4.43" height="4.43" fill="#000"/>
<path d="M381.50,642.35V667.12M379.50,642.35H383.50M379.50,667.12H383.50" stroke="#555" stroke-width="1" fill="none"/>
<path d="M379.70,643.64L382.08,647.80L377.32,647.80Z" fill="#000"/>
<path d="M382.30,646.62L384.68,650.78L379.92,650.78Z" fill="#000"/>
<path d="M381.00,666.58L383.38,670.74L378.62,670.74Z" fill="#000"/>
<path d="M393.50,638.91V664.14M391.50,638.91H395.50M391.50,664.14H395.50" stroke="#555" stroke-width="1" fill="none"/>
<path d="M393.05,632.87L396.00,636.15L393.05,639.43L390.10,636.15Z" fill="#000"/>
<path d="M393.05,651.91L396.00,655.19L393.05,658.47L390.10,655.19Z" fill="#000"/>
<path d="M393.05,658.11L396.00,661.39L393.05,664.67L390.10,661.39Z" fill="#000"/>
<rect x="409.80" y="606.10" width="6.40" height="153.70" fill="#dcdcdc" stroke="#000" stroke-width="1.3"/>
<rect x="421.90" y="679.74" width="6.40" height="80.06" fill="#dcdcdc" stroke="#000" stroke-width="1.3"/>
<rect x="433.80" y="627.44" width="6.40" height="132.36" fill="#dcdcdc" stroke="#000" stroke-width="1.3"/>
<rect x="445.85" y="627.89" width="6.40" height="131.90" fill="#dcdcdc" stroke="#000" stroke-width="1.3"/>
<path d="M413.50,596.93V615.28M411.50,596.93H415.50M411.50,615.28H415.50" stroke="#555" stroke-width="1" fill="none"/>
<circle cx="413.00" cy="597.16" r="2.25" fill="#000"/>
<circle cx="413.00" cy="604.27" r="2.25" fill="#000"/>
<circle cx="413.00" cy="615.28" r="2.25" fill="#000"/>
<path d="M425.50,677.90V681.57M423.50,677.90H427.50M423.50,681.57H427.50" stroke="#555" stroke-width="1" fill="none"/>
<rect x="421.59" y="676.15" width="4.43" height="4.43" fill="#000"/>
<rect x="422.89" y="677.30" width="4.43" height="4.43" fill="#000"/>
<rect x="424.19" y="678.44" width="4.43" height="4.43" fill="#000"/>
<path d="M437.50,607.48V647.39M435.50,607.48H439.50M435.50,647.39H439.50" stroke="#555" stroke-width="1" fill="none"/>
<path d="M437.00,606.71L439.38,610.87L434.62,610.87Z" fill="#000"/>
<path d="M437.00,622.99L439.38,627.16L434.62,627.16Z" fill="#000"/>
<path d="M437.00,646.62L439.38,650.78L434.62,650.78Z" fill="#000"/>
<path d="M449.50,598.07V657.72M447.50,598.07H451.50M447.50,657.72H451.50" stroke="#555" stroke-width="1" fill="none"/>
<path d="M449.05,590.89L452.00,594.17L449.05,597.45L446.10,594.17Z" fill="#000"/>
<path d="M449.05,637.00L452.00,640.28L449.05,643.56L446.10,640.28Z" fill="#000"/>
<path d="M449.05,643.20L452.00,646.48L449.05,649.76L446.10,646.48Z" fill="#000"/>
<path d="M71.00,529.65V759.80H456.00" stroke="#000" stroke-width="1.5" fill="none"/>
<path d="M66.20,759.80H71.00" stroke="#000" stroke-width="1.5"/>
<text x="64.40" y="764.70" font-size="12" font-weight="bold" text-anchor="end" >0.0</text>
<path d="M66.20,713.92H71.00" stroke="#000" stroke-width="1.5"/>
<text x="64.40" y="718.82" font-size="12" font-weight="bold" text-anchor="end" >0.2</text>
<path d="M66.20,668.04H71.00" stroke="#000" stroke-width="1.5"/>
<text x="64.40" y="672.94" font-size="12" font-weight="bold" text-anchor="end" >0.4</text>
<path d="M66.20,622.16H71.00" stroke="#000" stroke-width="1.5"/>
<text x="64.40" y="627.06" font-size="12" font-weight="bold" text-anchor="end" >0.6</text>
<path d="M66.20,576.28H71.00" stroke="#000" stroke-width="1.5"/>
<text x="64.40" y="581.18" font-size="12" font-weight="bold" text-anchor="end" >0.8</text>
<path d="M66.20,530.40H71.00" stroke="#000" stroke-width="1.5"/>
<text x="64.40" y="535.30" font-size="12" font-weight="bold" text-anchor="end" >1.0</text>
<path d="M95.05,759.80V764.80" stroke="#000" stroke-width="1.5"/>
<text x="99.55" y="775.30" font-size="12" font-weight="bold" text-anchor="end" transform="rotate(-45 99.55 775.30)">50</text>
<path d="M151.05,759.80V764.80" stroke="#000" stroke-width="1.5"/>
<text x="155.55" y="775.30" font-size="12" font-weight="bold" text-anchor="end" transform="rotate(-45 155.55 775.30)">25</text>
<path d="M207.05,759.80V764.80" stroke="#000" stroke-width="1.5"/>
<text x="211.55" y="775.30" font-size="12" font-weight="bold" text-anchor="end" transform="rotate(-45 211.55 775.30)">12.5</text>
<path d="M263.05,759.80V764.80" stroke="#000" stroke-width="1.5"/>
<text x="267.55" y="775.30" font-size="12" font-weight="bold" text-anchor="end" transform="rotate(-45 267.55 775.30)">6.25</text>
<path d="M319.05,759.80V764.80" stroke="#000" stroke-width="1.5"/>
<text x="323.55" y="775.30" font-size="12" font-weight="bold" text-anchor="end" transform="rotate(-45 323.55 775.30)">3.125</text>
<path d="M375.05,759.80V764.80" stroke="#000" stroke-width="1.5"/>
<text x="379.55" y="775.30" font-size="12" font-weight="bold" text-anchor="end" transform="rotate(-45 379.55 775.30)">1.56</text>
<path d="M431.05,759.80V764.80" stroke="#000" stroke-width="1.5"/>
<text x="435.55" y="775.30" font-size="12" font-weight="bold" text-anchor="end" transform="rotate(-45 435.55 775.30)">0.78</text>
<text x="37.30" y="645.10" font-size="13.8" font-weight="bold" text-anchor="middle" transform="rotate(-90 37.30 645.10)">Mean OD<tspan font-size="9.5" dy="2.8">600</tspan><tspan dy="-2.8"> Value</tspan></text>
<path d="M189.5,637.6V626.9H212.5V700.6M197,700.6H227.6" stroke="#000" stroke-width="2.0" fill="none"/>
<text x="202.60" y="627.40" font-size="19" text-anchor="middle" letter-spacing="1.4" stroke="#000" stroke-width="0.25">*</text>
<path d="M245.3,634.6V623.2H268.4V668.4M253.2,668.4H283.9" stroke="#000" stroke-width="2.0" fill="none"/>
<text x="258.90" y="623.70" font-size="19" text-anchor="middle" letter-spacing="1.4" stroke="#000" stroke-width="0.25">**</text>
<path d="M300.7,609.5V599.4H318.1V657.9M309.9,657.9H329" stroke="#000" stroke-width="2.0" fill="none"/>
<text x="310.60" y="599.90" font-size="19" text-anchor="middle" letter-spacing="1.4" stroke="#000" stroke-width="0.25">*</text>
<path d="M356.9,599.4V585.5H368.6V644.7" stroke="#000" stroke-width="2.0" fill="none"/>
<text x="364.30" y="586.00" font-size="19" text-anchor="middle" letter-spacing="1.4" stroke="#000" stroke-width="0.25">***</text>
<path d="M413.1,587.2V572.9H424.2V657.9" stroke="#000" stroke-width="2.0" fill="none"/>
<text x="419.20" y="573.40" font-size="19" text-anchor="middle" letter-spacing="1.4" stroke="#000" stroke-width="0.25">***</text>
<rect x="71.00" y="1038.96" width="5.80" height="18.14" fill="#dcdcdc" stroke="#000" stroke-width="1.4"/>
<rect x="82.40" y="1043.91" width="5.80" height="13.19" fill="#dcdcdc" stroke="#000" stroke-width="1.4"/>
<rect x="93.80" y="1047.64" width="5.80" height="9.46" fill="#dcdcdc" stroke="#000" stroke-width="1.4"/>
<rect x="105.20" y="1047.64" width="5.80" height="9.46" fill="#dcdcdc" stroke="#000" stroke-width="1.4"/>
<rect x="116.60" y="1044.13" width="5.80" height="12.97" fill="#dcdcdc" stroke="#000" stroke-width="1.4"/>
<rect x="128.00" y="1049.40" width="5.80" height="7.70" fill="#dcdcdc" stroke="#000" stroke-width="1.4"/>
<rect x="139.40" y="1046.76" width="5.80" height="10.34" fill="#dcdcdc" stroke="#000" stroke-width="1.4"/>
<path d="M73.50,1037.86V1040.06M71.50,1037.86H75.50M71.50,1040.06H75.50" stroke="#555" stroke-width="1" fill="none"/>
<circle cx="73.10" cy="1037.31" r="2.48" fill="#000"/>
<circle cx="73.90" cy="1038.96" r="2.48" fill="#000"/>
<circle cx="74.70" cy="1039.51" r="2.48" fill="#000"/>
<path d="M85.50,1042.81V1045.01M83.50,1042.81H87.50M83.50,1045.01H87.50" stroke="#555" stroke-width="1" fill="none"/>
<rect x="82.07" y="1040.38" width="4.86" height="4.86" fill="#000"/>
<rect x="82.87" y="1041.48" width="4.86" height="4.86" fill="#000"/>
<rect x="83.67" y="1042.58" width="4.86" height="4.86" fill="#000"/>
<path d="M96.50,1047.09V1048.19M94.50,1047.09H98.50M94.50,1048.19H98.50" stroke="#555" stroke-width="1" fill="none"/>
<path d="M95.90,1044.59L98.51,1049.16L93.29,1049.16Z" fill="#000"/>
<path d="M96.70,1045.03L99.31,1049.60L94.09,1049.60Z" fill="#000"/>
<path d="M97.50,1045.69L100.11,1050.26L94.89,1050.26Z" fill="#000"/>
<path d="M108.50,1044.35V1050.94M106.50,1044.35H110.50M106.50,1050.94H110.50" stroke="#555" stroke-width="1" fill="none"/>
<path d="M107.30,1041.03L109.89,1043.91L107.30,1046.79L104.71,1043.91Z" fill="#000"/>
<path d="M108.10,1044.32L110.69,1047.20L108.10,1050.08L105.51,1047.20Z" fill="#000"/>
<path d="M108.90,1047.62L111.49,1050.50L108.90,1053.38L106.31,1050.50Z" fill="#000"/>
<path d="M119.50,1041.93V1046.32M117.50,1041.93H121.50M117.50,1046.32H121.50" stroke="#555" stroke-width="1" fill="none"/>
<path d="M116.22,1039.22L121.18,1044.19M121.18,1039.22L116.22,1044.19" stroke="#000" stroke-width="1.35" fill="none"/>
<path d="M117.02,1041.42L121.98,1046.39M121.98,1041.42L117.02,1046.39" stroke="#000" stroke-width="1.35" fill="none"/>
<path d="M117.82,1043.62L122.78,1048.59M122.78,1043.62L117.82,1048.59" stroke="#000" stroke-width="1.35" fill="none"/>
<path d="M130.50,1048.85V1049.95M128.50,1048.85H132.50M128.50,1049.95H132.50" stroke="#555" stroke-width="1" fill="none"/>
<circle cx="130.10" cy="1048.85" r="2.64" fill="none" stroke="#000" stroke-width="1.35"/>
<circle cx="130.90" cy="1049.40" r="2.64" fill="none" stroke="#000" stroke-width="1.35"/>
<circle cx="131.70" cy="1049.95" r="2.64" fill="none" stroke="#000" stroke-width="1.35"/>
<path d="M142.50,1042.37V1051.16M140.50,1042.37H144.50M140.50,1051.16H144.50" stroke="#555" stroke-width="1" fill="none"/>
<rect x="138.53" y="1038.91" width="5.15" height="5.15" fill="none" stroke="#000" stroke-width="1.29"/>
<rect x="141.33" y="1042.98" width="5.15" height="5.15" fill="none" stroke="#000" stroke-width="1.29"/>
<rect x="139.73" y="1047.93" width="5.15" height="5.15" fill="none" stroke="#000" stroke-width="1.29"/>
<rect x="158.37" y="1050.72" width="5.80" height="6.38" fill="#dcdcdc" stroke="#000" stroke-width="1.4"/>
<rect x="169.77" y="1050.72" width="5.80" height="6.38" fill="#dcdcdc" stroke="#000" stroke-width="1.4"/>
<rect x="181.17" y="1051.05" width="5.80" height="6.05" fill="#dcdcdc" stroke="#000" stroke-width="1.4"/>
<rect x="192.57" y="1050.72" width="5.80" height="6.38" fill="#dcdcdc" stroke="#000" stroke-width="1.4"/>
<rect x="203.97" y="1049.40" width="5.80" height="7.70" fill="#dcdcdc" stroke="#000" stroke-width="1.4"/>
<rect x="215.37" y="1048.30" width="5.80" height="8.80" fill="#dcdcdc" stroke="#000" stroke-width="1.4"/>
<rect x="226.77" y="1041.71" width="5.80" height="15.39" fill="#dcdcdc" stroke="#000" stroke-width="1.4"/>
<circle cx="160.47" cy="1050.50" r="2.48" fill="#000"/>
<circle cx="161.27" cy="1050.72" r="2.48" fill="#000"/>
<circle cx="162.07" cy="1050.94" r="2.48" fill="#000"/>
<rect x="169.44" y="1048.07" width="4.86" height="4.86" fill="#000"/>
<rect x="170.24" y="1048.29" width="4.86" height="4.86" fill="#000"/>
<rect x="171.04" y="1048.51" width="4.86" height="4.86" fill="#000"/>
<path d="M183.27,1048.11L185.88,1052.68L180.66,1052.68Z" fill="#000"/>
<path d="M184.07,1048.44L186.68,1053.01L181.46,1053.01Z" fill="#000"/>
<path d="M184.87,1048.77L187.48,1053.34L182.26,1053.34Z" fill="#000"/>
<path d="M194.67,1047.62L197.26,1050.50L194.67,1053.38L192.08,1050.50Z" fill="#000"/>
<path d="M195.47,1047.84L198.06,1050.72L195.47,1053.60L192.88,1050.72Z" fill="#000"/>
<path d="M196.27,1048.06L198.86,1050.94L196.27,1053.82L193.68,1050.94Z" fill="#000"/>
<path d="M206.50,1048.30V1050.50M204.50,1048.30H208.50M204.50,1050.50H208.50" stroke="#555" stroke-width="1" fill="none"/>
<path d="M203.59,1045.82L208.55,1050.79M208.55,1045.82L203.59,1050.79" stroke="#000" stroke-width="1.35" fill="none"/>
<path d="M204.39,1046.92L209.35,1051.89M209.35,1046.92L204.39,1051.89" stroke="#000" stroke-width="1.35" fill="none"/>
<path d="M205.19,1047.47L210.15,1052.44M210.15,1047.47L205.19,1052.44" stroke="#000" stroke-width="1.35" fill="none"/>
<path d="M218.50,1047.20V1049.40M216.50,1047.20H220.50M216.50,1049.40H220.50" stroke="#555" stroke-width="1" fill="none"/>
<circle cx="217.47" cy="1047.20" r="2.64" fill="none" stroke="#000" stroke-width="1.35"/>
<circle cx="218.27" cy="1048.30" r="2.64" fill="none" stroke="#000" stroke-width="1.35"/>
<circle cx="219.07" cy="1049.40" r="2.64" fill="none" stroke="#000" stroke-width="1.35"/>
<path d="M229.50,1037.86V1045.56M227.50,1037.86H231.50M227.50,1045.56H231.50" stroke="#555" stroke-width="1" fill="none"/>
<rect x="225.50" y="1033.64" width="5.15" height="5.15" fill="none" stroke="#000" stroke-width="1.29"/>
<rect x="228.90" y="1036.93" width="5.15" height="5.15" fill="none" stroke="#000" stroke-width="1.29"/>
<rect x="227.10" y="1041.55" width="5.15" height="5.15" fill="none" stroke="#000" stroke-width="1.29"/>
<rect x="245.74" y="1049.95" width="5.80" height="7.15" fill="#dcdcdc" stroke="#000" stroke-width="1.4"/>
<rect x="257.14" y="1049.95" width="5.80" height="7.15" fill="#dcdcdc" stroke="#000" stroke-width="1.4"/>
<rect x="268.54" y="1050.50" width="5.80" height="6.60" fill="#dcdcdc" stroke="#000" stroke-width="1.4"/>
<rect x="279.94" y="1050.28" width="5.80" height="6.82" fill="#dcdcdc" stroke="#000" stroke-width="1.4"/>
<rect x="291.34" y="1047.75" width="5.80" height="9.35" fill="#dcdcdc" stroke="#000" stroke-width="1.4"/>
<rect x="302.74" y="1033.46" width="5.80" height="23.64" fill="#dcdcdc" stroke="#000" stroke-width="1.4"/>
<rect x="314.14" y="1019.17" width="5.80" height="37.93" fill="#dcdcdc" stroke="#000" stroke-width="1.4"/>
<circle cx="247.84" cy="1049.62" r="2.48" fill="#000"/>
<circle cx="248.64" cy="1049.95" r="2.48" fill="#000"/>
<circle cx="249.44" cy="1050.28" r="2.48" fill="#000"/>
<rect x="256.81" y="1047.19" width="4.86" height="4.86" fill="#000"/>
<rect x="257.61" y="1047.52" width="4.86" height="4.86" fill="#000"/>
<rect x="258.41" y="1047.85" width="4.86" height="4.86" fill="#000"/>
<path d="M270.64,1047.56L273.25,1052.13L268.03,1052.13Z" fill="#000"/>
<path d="M271.44,1047.89L274.05,1052.46L268.83,1052.46Z" fill="#000"/>
<path d="M272.24,1048.22L274.85,1052.79L269.63,1052.79Z" fill="#000"/>
<path d="M282.04,1047.07L284.63,1049.95L282.04,1052.83L279.45,1049.95Z" fill="#000"/>
<path d="M282.84,1047.40L285.43,1050.28L282.84,1053.16L280.25,1050.28Z" fill="#000"/>
<path d="M283.64,1047.62L286.23,1050.50L283.64,1053.38L281.05,1050.50Z" fill="#000"/>
<path d="M294.50,1046.43V1049.07M292.50,1046.43H296.50M292.50,1049.07H296.50" stroke="#555" stroke-width="1" fill="none"/>
<path d="M290.96,1043.62L295.92,1048.59M295.92,1043.62L290.96,1048.59" stroke="#000" stroke-width="1.35" fill="none"/>
<path d="M291.76,1045.27L296.72,1050.24M296.72,1045.27L291.76,1050.24" stroke="#000" stroke-width="1.35" fill="none"/>
<path d="M292.56,1046.37L297.52,1051.34M297.52,1046.37L292.56,1051.34" stroke="#000" stroke-width="1.35" fill="none"/>
<path d="M305.50,1031.26V1035.66M303.50,1031.26H307.50M303.50,1035.66H307.50" stroke="#555" stroke-width="1" fill="none"/>
<circle cx="305.64" cy="1030.71" r="2.64" fill="none" stroke="#000" stroke-width="1.35"/>
<circle cx="307.24" cy="1032.91" r="2.64" fill="none" stroke="#000" stroke-width="1.35"/>
<circle cx="305.04" cy="1035.11" r="2.64" fill="none" stroke="#000" stroke-width="1.35"/>
<path d="M317.50,1015.32V1023.02M315.50,1015.32H319.50M315.50,1023.02H319.50" stroke="#555" stroke-width="1" fill="none"/>
<rect x="312.87" y="1013.29" width="5.15" height="5.15" fill="none" stroke="#000" stroke-width="1.29"/>
<rect x="316.07" y="1015.49" width="5.15" height="5.15" fill="none" stroke="#000" stroke-width="1.29"/>
<rect x="314.47" y="1020.99" width="5.15" height="5.15" fill="none" stroke="#000" stroke-width="1.29"/>
<rect x="333.11" y="1046.11" width="5.80" height="10.99" fill="#dcdcdc" stroke="#000" stroke-width="1.4"/>
<rect x="344.51" y="1041.71" width="5.80" height="15.39" fill="#dcdcdc" stroke="#000" stroke-width="1.4"/>
<rect x="355.91" y="1047.42" width="5.80" height="9.68" fill="#dcdcdc" stroke="#000" stroke-width="1.4"/>
<rect x="367.31" y="1048.96" width="5.80" height="8.14" fill="#dcdcdc" stroke="#000" stroke-width="1.4"/>
<rect x="378.71" y="1043.91" width="5.80" height="13.19" fill="#dcdcdc" stroke="#000" stroke-width="1.4"/>
<rect x="390.11" y="991.13" width="5.80" height="65.97" fill="#dcdcdc" stroke="#000" stroke-width="1.4"/>
<rect x="401.51" y="1004.32" width="5.80" height="52.78" fill="#dcdcdc" stroke="#000" stroke-width="1.4"/>
<path d="M336.50,1045.01V1047.20M334.50,1045.01H338.50M334.50,1047.20H338.50" stroke="#555" stroke-width="1" fill="none"/>
<circle cx="335.21" cy="1045.01" r="2.48" fill="#000"/>
<circle cx="336.01" cy="1046.11" r="2.48" fill="#000"/>
<circle cx="336.81" cy="1047.20" r="2.48" fill="#000"/>
<path d="M347.50,1028.51V1054.90M345.50,1028.51H349.50M345.50,1054.90H349.50" stroke="#555" stroke-width="1" fill="none"/>
<rect x="344.98" y="1023.88" width="4.86" height="4.86" fill="#000"/>
<rect x="344.98" y="1044.77" width="4.86" height="4.86" fill="#000"/>
<rect x="344.98" y="1049.17" width="4.86" height="4.86" fill="#000"/>
<path d="M358.50,1046.32V1048.52M356.50,1046.32H360.50M356.50,1048.52H360.50" stroke="#555" stroke-width="1" fill="none"/>
<path d="M358.01,1043.50L360.62,1048.06L355.40,1048.06Z" fill="#000"/>
<path d="M358.81,1044.81L361.42,1049.38L356.20,1049.38Z" fill="#000"/>
<path d="M359.61,1045.91L362.22,1050.48L357.00,1050.48Z" fill="#000"/>
<path d="M370.50,1048.41V1049.51M368.50,1048.41H372.50M368.50,1049.51H372.50" stroke="#555" stroke-width="1" fill="none"/>
<path d="M369.41,1045.42L372.00,1048.30L369.41,1051.18L366.82,1048.30Z" fill="#000"/>
<path d="M370.21,1046.08L372.80,1048.96L370.21,1051.84L367.62,1048.96Z" fill="#000"/>
<path d="M371.01,1046.52L373.60,1049.40L371.01,1052.28L368.42,1049.40Z" fill="#000"/>
<path d="M381.50,1042.81V1045.01M379.50,1042.81H383.50M379.50,1045.01H383.50" stroke="#555" stroke-width="1" fill="none"/>
<path d="M378.33,1040.32L383.29,1045.29M383.29,1040.32L378.33,1045.29" stroke="#000" stroke-width="1.35" fill="none"/>
<path d="M379.13,1041.42L384.09,1046.39M384.09,1041.42L379.13,1046.39" stroke="#000" stroke-width="1.35" fill="none"/>
<path d="M379.93,1042.52L384.89,1047.49M384.89,1042.52L379.93,1047.49" stroke="#000" stroke-width="1.35" fill="none"/>
<path d="M393.50,972.44V1009.82M391.50,972.44H395.50M391.50,1009.82H395.50" stroke="#555" stroke-width="1" fill="none"/>
<circle cx="393.01" cy="969.14" r="2.64" fill="none" stroke="#000" stroke-width="1.35"/>
<circle cx="393.01" cy="995.53" r="2.64" fill="none" stroke="#000" stroke-width="1.35"/>
<circle cx="393.01" cy="1004.32" r="2.64" fill="none" stroke="#000" stroke-width="1.35"/>
<path d="M404.50,988.93V1019.72M402.50,988.93H406.50M402.50,1019.72H406.50" stroke="#555" stroke-width="1" fill="none"/>
<rect x="401.84" y="988.56" width="5.15" height="5.15" fill="none" stroke="#000" stroke-width="1.29"/>
<rect x="401.84" y="1002.85" width="5.15" height="5.15" fill="none" stroke="#000" stroke-width="1.29"/>
<rect x="401.84" y="1020.44" width="5.15" height="5.15" fill="none" stroke="#000" stroke-width="1.29"/>
<rect x="420.48" y="1013.12" width="5.80" height="43.98" fill="#dcdcdc" stroke="#000" stroke-width="1.4"/>
<rect x="431.88" y="1025.76" width="5.80" height="31.34" fill="#dcdcdc" stroke="#000" stroke-width="1.4"/>
<rect x="443.28" y="1031.37" width="5.80" height="25.73" fill="#dcdcdc" stroke="#000" stroke-width="1.4"/>
<rect x="454.68" y="1028.51" width="5.80" height="28.59" fill="#dcdcdc" stroke="#000" stroke-width="1.4"/>
<rect x="466.08" y="937.80" width="5.80" height="119.30" fill="#dcdcdc" stroke="#000" stroke-width="1.4"/>
<rect x="477.48" y="981.23" width="5.80" height="75.87" fill="#dcdcdc" stroke="#000" stroke-width="1.4"/>
<rect x="488.88" y="983.43" width="5.80" height="73.67" fill="#dcdcdc" stroke="#000" stroke-width="1.4"/>
<path d="M423.50,1003.22V1023.02M421.50,1003.22H425.50M421.50,1023.02H425.50" stroke="#555" stroke-width="1" fill="none"/>
<circle cx="423.38" cy="1003.22" r="2.48" fill="#000"/>
<circle cx="423.38" cy="1010.37" r="2.48" fill="#000"/>
<circle cx="423.38" cy="1023.02" r="2.48" fill="#000"/>
<path d="M434.50,1014.77V1036.76M432.50,1014.77H436.50M432.50,1036.76H436.50" stroke="#555" stroke-width="1" fill="none"/>
<rect x="431.55" y="1014.32" width="4.86" height="4.86" fill="#000"/>
<rect x="433.15" y="1018.06" width="4.86" height="4.86" fill="#000"/>
<rect x="432.35" y="1034.88" width="4.86" height="4.86" fill="#000"/>
<path d="M446.50,1022.58V1040.17M444.50,1022.58H448.50M444.50,1040.17H448.50" stroke="#555" stroke-width="1" fill="none"/>
<path d="M446.18,1019.31L448.79,1023.87L443.57,1023.87Z" fill="#000"/>
<path d="M446.18,1029.20L448.79,1033.77L443.57,1033.77Z" fill="#000"/>
<path d="M446.18,1037.34L448.79,1041.91L443.57,1041.91Z" fill="#000"/>
<path d="M457.50,1027.41V1029.61M455.50,1027.41H459.50M455.50,1029.61H459.50" stroke="#555" stroke-width="1" fill="none"/>
<path d="M456.78,1023.43L459.37,1026.31L456.78,1029.19L454.19,1026.31Z" fill="#000"/>
<path d="M457.58,1025.08L460.17,1027.96L457.58,1030.84L454.99,1027.96Z" fill="#000"/>
<path d="M458.38,1026.18L460.97,1029.06L458.38,1031.94L455.79,1029.06Z" fill="#000"/>
<path d="M468.50,896.02V979.59M466.50,896.02H470.50M466.50,979.59H470.50" stroke="#555" stroke-width="1" fill="none"/>
<path d="M465.70,886.39L470.66,891.36M470.66,886.39L465.70,891.36" stroke="#000" stroke-width="1.35" fill="none"/>
<path d="M467.30,888.59L472.26,893.56M472.26,888.59L467.30,893.56" stroke="#000" stroke-width="1.35" fill="none"/>
<path d="M466.50,957.86L471.46,962.83M471.46,957.86L466.50,962.83" stroke="#000" stroke-width="1.35" fill="none"/>
<path d="M480.50,969.14V993.33M478.50,969.14H482.50M478.50,993.33H482.50" stroke="#555" stroke-width="1" fill="none"/>
<circle cx="480.38" cy="966.94" r="2.64" fill="none" stroke="#000" stroke-width="1.35"/>
<circle cx="479.58" cy="986.73" r="2.64" fill="none" stroke="#000" stroke-width="1.35"/>
<circle cx="481.18" cy="990.03" r="2.64" fill="none" stroke="#000" stroke-width="1.35"/>
<path d="M491.50,968.04V998.83M489.50,968.04H493.50M489.50,998.83H493.50" stroke="#555" stroke-width="1" fill="none"/>
<rect x="489.21" y="965.47" width="5.15" height="5.15" fill="none" stroke="#000" stroke-width="1.29"/>
<rect x="489.21" y="976.46" width="5.15" height="5.15" fill="none" stroke="#000" stroke-width="1.29"/>
<rect x="489.21" y="999.55" width="5.15" height="5.15" fill="none" stroke="#000" stroke-width="1.29"/>
<rect x="507.85" y="981.67" width="5.80" height="75.43" fill="#dcdcdc" stroke="#000" stroke-width="1.4"/>
<rect x="519.25" y="999.93" width="5.80" height="57.17" fill="#dcdcdc" stroke="#000" stroke-width="1.4"/>
<rect x="530.65" y="998.61" width="5.80" height="58.49" fill="#dcdcdc" stroke="#000" stroke-width="1.4"/>
<rect x="542.05" y="990.47" width="5.80" height="66.63" fill="#dcdcdc" stroke="#000" stroke-width="1.4"/>
<rect x="553.45" y="939.12" width="5.80" height="117.98" fill="#dcdcdc" stroke="#000" stroke-width="1.4"/>
<rect x="564.85" y="974.31" width="5.80" height="82.79" fill="#dcdcdc" stroke="#000" stroke-width="1.4"/>
<rect x="576.25" y="954.85" width="5.80" height="102.25" fill="#dcdcdc" stroke="#000" stroke-width="1.4"/>
<path d="M510.50,957.49V1005.86M508.50,957.49H512.50M508.50,1005.86H512.50" stroke="#555" stroke-width="1" fill="none"/>
<circle cx="510.75" cy="952.65" r="2.48" fill="#000"/>
<circle cx="509.95" cy="994.87" r="2.48" fill="#000"/>
<circle cx="511.55" cy="997.73" r="2.48" fill="#000"/>
<path d="M522.50,980.13V1019.72M520.50,980.13H524.50M520.50,1019.72H524.50" stroke="#555" stroke-width="1" fill="none"/>
<rect x="519.72" y="974.41" width="4.86" height="4.86" fill="#000"/>
<rect x="519.72" y="1005.19" width="4.86" height="4.86" fill="#000"/>
<rect x="519.72" y="1013.99" width="4.86" height="4.86" fill="#000"/>
<path d="M533.50,995.31V1001.91M531.50,995.31H535.50M531.50,1001.91H535.50" stroke="#555" stroke-width="1" fill="none"/>
<path d="M533.55,992.26L536.16,996.83L530.94,996.83Z" fill="#000"/>
<path d="M532.75,996.55L535.36,1001.11L530.14,1001.11Z" fill="#000"/>
<path d="M534.35,998.97L536.96,1003.53L531.74,1003.53Z" fill="#000"/>
<path d="M544.50,971.78V1009.16M542.50,971.78H546.50M542.50,1009.16H546.50" stroke="#555" stroke-width="1" fill="none"/>
<path d="M544.95,966.26L547.54,969.14L544.95,972.02L542.36,969.14Z" fill="#000"/>
<path d="M544.95,993.97L547.54,996.85L544.95,999.73L542.36,996.85Z" fill="#000"/>
<path d="M544.95,1002.10L547.54,1004.98L544.95,1007.86L542.36,1004.98Z" fill="#000"/>
<path d="M556.50,898.44V979.81M554.50,898.44H558.50M554.50,979.81H558.50" stroke="#555" stroke-width="1" fill="none"/>
<path d="M553.87,889.69L558.83,894.66M558.83,889.69L553.87,894.66" stroke="#000" stroke-width="1.35" fill="none"/>
<path d="M553.87,948.51L558.83,953.48M558.83,948.51L553.87,953.48" stroke="#000" stroke-width="1.35" fill="none"/>
<path d="M553.87,969.73L558.83,974.70M558.83,969.73L553.87,974.70" stroke="#000" stroke-width="1.35" fill="none"/>
<path d="M567.50,969.91V978.71M565.50,969.91H569.50M565.50,978.71H569.50" stroke="#555" stroke-width="1" fill="none"/>
<circle cx="567.75" cy="965.84" r="2.64" fill="none" stroke="#000" stroke-width="1.35"/>
<circle cx="566.95" cy="971.34" r="2.64" fill="none" stroke="#000" stroke-width="1.35"/>
<circle cx="568.55" cy="974.64" r="2.64" fill="none" stroke="#000" stroke-width="1.35"/>
<path d="M579.50,940.55V969.14M577.50,940.55H581.50M577.50,969.14H581.50" stroke="#555" stroke-width="1" fill="none"/>
<rect x="576.58" y="937.98" width="5.15" height="5.15" fill="none" stroke="#000" stroke-width="1.29"/>
<rect x="576.58" y="957.11" width="5.15" height="5.15" fill="none" stroke="#000" stroke-width="1.29"/>
<rect x="576.58" y="965.91" width="5.15" height="5.15" fill="none" stroke="#000" stroke-width="1.29"/>
<rect x="595.22" y="905.59" width="5.80" height="151.51" fill="#dcdcdc" stroke="#000" stroke-width="1.4"/>
<rect x="606.62" y="963.42" width="5.80" height="93.68" fill="#dcdcdc" stroke="#000" stroke-width="1.4"/>
<rect x="618.02" y="969.14" width="5.80" height="87.96" fill="#dcdcdc" stroke="#000" stroke-width="1.4"/>
<rect x="629.42" y="949.35" width="5.80" height="107.75" fill="#dcdcdc" stroke="#000" stroke-width="1.4"/>
<rect x="640.82" y="894.37" width="5.80" height="162.73" fill="#dcdcdc" stroke="#000" stroke-width="1.4"/>
<rect x="652.22" y="924.06" width="5.80" height="133.04" fill="#dcdcdc" stroke="#000" stroke-width="1.4"/>
<rect x="663.62" y="937.80" width="5.80" height="119.30" fill="#dcdcdc" stroke="#000" stroke-width="1.4"/>
<path d="M598.50,874.80V936.37M596.50,874.80H600.50M596.50,936.37H600.50" stroke="#555" stroke-width="1" fill="none"/>
<circle cx="598.12" cy="874.03" r="2.48" fill="#000"/>
<circle cx="598.12" cy="904.93" r="2.48" fill="#000"/>
<circle cx="598.12" cy="934.84" r="2.48" fill="#000"/>
<path d="M609.50,946.93V979.92M607.50,946.93H611.50M607.50,979.92H611.50" stroke="#555" stroke-width="1" fill="none"/>
<rect x="606.29" y="948.57" width="4.86" height="4.86" fill="#000"/>
<rect x="607.89" y="951.98" width="4.86" height="4.86" fill="#000"/>
<rect x="607.09" y="979.24" width="4.86" height="4.86" fill="#000"/>
<path d="M620.50,963.64V974.64M618.50,963.64H622.50M618.50,974.64H622.50" stroke="#555" stroke-width="1" fill="none"/>
<path d="M620.92,959.93L623.53,964.50L618.31,964.50Z" fill="#000"/>
<path d="M620.12,968.73L622.73,973.30L617.51,973.30Z" fill="#000"/>
<path d="M621.72,969.83L624.33,974.40L619.11,974.40Z" fill="#000"/>
<path d="M632.50,927.36V971.34M630.50,927.36H634.50M630.50,971.34H634.50" stroke="#555" stroke-width="1" fill="none"/>
<path d="M632.32,925.58L634.91,928.46L632.32,931.34L629.73,928.46Z" fill="#000"/>
<path d="M632.32,946.47L634.91,949.35L632.32,952.23L629.73,949.35Z" fill="#000"/>
<path d="M632.32,970.00L634.91,972.88L632.32,975.76L629.73,972.88Z" fill="#000"/>
<path d="M643.50,866.89V921.86M641.50,866.89H645.50M641.50,921.86H645.50" stroke="#555" stroke-width="1" fill="none"/>
<path d="M641.24,860.55L646.20,865.52M646.20,860.55L641.24,865.52" stroke="#000" stroke-width="1.35" fill="none"/>
<path d="M641.24,902.45L646.20,907.41M646.20,902.45L641.24,907.41" stroke="#000" stroke-width="1.35" fill="none"/>
<path d="M641.24,910.36L646.20,915.33M646.20,910.36L641.24,915.33" stroke="#000" stroke-width="1.35" fill="none"/>
<path d="M655.50,906.47V941.65M653.50,906.47H657.50M653.50,941.65H657.50" stroke="#555" stroke-width="1" fill="none"/>
<circle cx="655.12" cy="904.60" r="2.64" fill="none" stroke="#000" stroke-width="1.35"/>
<circle cx="655.12" cy="930.99" r="2.64" fill="none" stroke="#000" stroke-width="1.35"/>
<circle cx="655.12" cy="939.12" r="2.64" fill="none" stroke="#000" stroke-width="1.35"/>
<path d="M666.50,909.22V966.39M664.50,909.22H668.50M664.50,966.39H668.50" stroke="#555" stroke-width="1" fill="none"/>
<rect x="663.95" y="904.44" width="5.15" height="5.15" fill="none" stroke="#000" stroke-width="1.29"/>
<rect x="663.95" y="948.42" width="5.15" height="5.15" fill="none" stroke="#000" stroke-width="1.29"/>
<rect x="663.95" y="959.97" width="5.15" height="5.15" fill="none" stroke="#000" stroke-width="1.29"/>
<path d="M64.40,836.45V1057.10H677.00" stroke="#000" stroke-width="1.5" fill="none"/>
<path d="M59.60,1057.10H64.40" stroke="#000" stroke-width="1.5"/>
<text x="57.80" y="1062.00" font-size="12" font-weight="bold" text-anchor="end" >0.0</text>
<path d="M59.60,1002.12H64.40" stroke="#000" stroke-width="1.5"/>
<text x="57.80" y="1007.02" font-size="12" font-weight="bold" text-anchor="end" >0.5</text>
<path d="M59.60,947.15H64.40" stroke="#000" stroke-width="1.5"/>
<text x="57.80" y="952.05" font-size="12" font-weight="bold" text-anchor="end" >1.0</text>
<path d="M59.60,892.17H64.40" stroke="#000" stroke-width="1.5"/>
<text x="57.80" y="897.07" font-size="12" font-weight="bold" text-anchor="end" >1.5</text>
<path d="M59.60,837.20H64.40" stroke="#000" stroke-width="1.5"/>
<text x="57.80" y="842.10" font-size="12" font-weight="bold" text-anchor="end" >2.0</text>
<path d="M108.10,1057.10V1062.10" stroke="#000" stroke-width="1.5"/>
<text x="112.60" y="1072.60" font-size="12" font-weight="bold" text-anchor="end" transform="rotate(-45 112.60 1072.60)">50</text>
<path d="M195.47,1057.10V1062.10" stroke="#000" stroke-width="1.5"/>
<text x="199.97" y="1072.60" font-size="12" font-weight="bold" text-anchor="end" transform="rotate(-45 199.97 1072.60)">25</text>
<path d="M282.84,1057.10V1062.10" stroke="#000" stroke-width="1.5"/>
<text x="287.34" y="1072.60" font-size="12" font-weight="bold" text-anchor="end" transform="rotate(-45 287.34 1072.60)">12.5</text>
<path d="M370.21,1057.10V1062.10" stroke="#000" stroke-width="1.5"/>
<text x="374.71" y="1072.60" font-size="12" font-weight="bold" text-anchor="end" transform="rotate(-45 374.71 1072.60)">6.25</text>
<path d="M457.58,1057.10V1062.10" stroke="#000" stroke-width="1.5"/>
<text x="462.08" y="1072.60" font-size="12" font-weight="bold" text-anchor="end" transform="rotate(-45 462.08 1072.60)">3.125</text>
<path d="M544.95,1057.10V1062.10" stroke="#000" stroke-width="1.5"/>
<text x="549.45" y="1072.60" font-size="12" font-weight="bold" text-anchor="end" transform="rotate(-45 549.45 1072.60)">1.56</text>
<path d="M632.32,1057.10V1062.10" stroke="#000" stroke-width="1.5"/>
<text x="636.82" y="1072.60" font-size="12" font-weight="bold" text-anchor="end" transform="rotate(-45 636.82 1072.60)">0.78</text>
<text x="30.60" y="947.15" font-size="14.1" font-weight="bold" text-anchor="middle" transform="rotate(-90 30.60 947.15)">Mean OD<tspan font-size="9.5" dy="2.8">600</tspan><tspan dy="-2.8"> Value</tspan></text>
<path d="M70,1025H133.6M103.8,1025V1012.8H143.3V1032.5" stroke="#000" stroke-width="2.0" fill="none"/>
<text x="124.00" y="1007.60" font-size="13.5" text-anchor="middle" >NS</text>
<path d="M155.4,1029.6H219.5M189.3,1029.6V1005.2H229.5V1026.2" stroke="#000" stroke-width="2.0" fill="none"/>
<text x="209.00" y="1002.00" font-size="13.5" text-anchor="middle" >NS</text>
<path d="M246.3,1021.6H309M277,1021.6V1000.3H317" stroke="#000" stroke-width="2.0" fill="none"/>
<text x="297.00" y="997.00" font-size="13.5" text-anchor="middle" >NS</text>
<path d="M332.4,1015.8H384M361,1015.8V959.4H404.5V979.3" stroke="#000" stroke-width="2.0" fill="none"/>
<text x="384.00" y="961.30" font-size="19" text-anchor="middle" letter-spacing="1.4" stroke="#000" stroke-width="0.25">*</text>
<path d="M431.4,1002.8H461M445.7,1002.8V866H490.8V963" stroke="#000" stroke-width="2.0" fill="none"/>
<text x="468.50" y="867.90" font-size="19" text-anchor="middle" letter-spacing="1.4" stroke="#000" stroke-width="0.25">**</text>
<path d="M468,882.2H490.8" stroke="#000" stroke-width="2.0" fill="none"/>
<text x="475.80" y="884.10" font-size="19" text-anchor="middle" letter-spacing="1.4" stroke="#000" stroke-width="0.25">***</text>
<path d="M517.6,958H547.7M533.7,958V873.2H578.5V928.2" stroke="#000" stroke-width="2.0" fill="none"/>
<text x="555.20" y="875.10" font-size="19" text-anchor="middle" letter-spacing="1.4" stroke="#000" stroke-width="0.25">*</text>
<path d="M597.9,856.4V833.8H666.2V899" stroke="#000" stroke-width="2.0" fill="none"/>
<text x="634.50" y="835.70" font-size="19" text-anchor="middle" letter-spacing="1.4" stroke="#000" stroke-width="0.25">*</text>
<path d="M643.2,856.4V849.8H666.2" stroke="#000" stroke-width="2.0" fill="none"/>
<text x="654.70" y="851.70" font-size="19" text-anchor="middle" letter-spacing="1.4" stroke="#000" stroke-width="0.25">*</text>
<path d="M654.4,896.6V886H666.2" stroke="#000" stroke-width="2.0" fill="none"/>
<text x="657.60" y="887.90" font-size="19" text-anchor="middle" letter-spacing="1.4" stroke="#000" stroke-width="0.25">**</text>
<text x="1.60" y="20.10" font-size="25" font-weight="bold" text-anchor="start" >A</text>
<text x="2.50" y="274.80" font-size="25" font-weight="bold" text-anchor="start" >B</text>
<text x="2.00" y="539.60" font-size="25.5" font-weight="bold" text-anchor="start" >C</text>
<text x="1.90" y="853.00" font-size="25" font-weight="bold" text-anchor="start" >D</text>
<text x="280.3" y="226.4" font-size="13.6" font-weight="bold">% v/v of CM<tspan font-size="10" dy="-5.5" dx="0.8">R</tspan></text>
<text x="285.8" y="487.0" font-size="13.6" font-weight="bold">% v/v of CM<tspan font-size="10" dy="-5.5" dx="0.8">R</tspan></text>
<text x="222.2" y="817.3" font-size="13.6" font-weight="bold">% v/v of CM<tspan font-size="10" dy="-5.5" dx="0.8">R</tspan></text>
<text x="334.0" y="1115.8" font-size="13.8" font-weight="bold">CM<tspan font-size="10" dy="-5.5" dx="0.8">R</tspan><tspan dy="5.5"> (%v/v)</tspan></text>
<circle cx="100.50" cy="247.70" r="2.06" fill="#000"/>
<text x="118.50" y="252.30" font-size="13.5" text-anchor="start" >70 - 80 % confluency</text>
<rect x="264.84" y="245.54" width="4.32" height="4.32" fill="#000"/>
<text x="286.00" y="252.30" font-size="13.5" text-anchor="start" >90 - 95 % confluency</text>
<path d="M436.30,246.02L438.48,249.83L434.12,249.83Z" fill="#000"/>
<text x="456.00" y="252.30" font-size="13.5" text-anchor="start" >100 % confluency</text>
<circle cx="172.80" cy="503.60" r="2.06" fill="#000"/>
<text x="192.30" y="508.60" font-size="13.5" text-anchor="start" >No wash</text>
<rect x="266.54" y="501.44" width="4.32" height="4.32" fill="#000"/>
<text x="288.70" y="508.60" font-size="13.5" text-anchor="start" >1 wash</text>
<path d="M358.20,501.82L360.38,505.63L356.02,505.63Z" fill="#000"/>
<text x="376.70" y="508.60" font-size="13.5" text-anchor="start" >2 wash</text>
<path d="M444.28,501.68L448.12,505.52M448.12,501.68L444.28,505.52" stroke="#000" stroke-width="1.84" fill="none"/>
<text x="464.90" y="508.60" font-size="13.5" text-anchor="start" >3 wash</text>
<circle cx="85.10" cy="536.30" r="2.20" fill="#000"/>
<text x="103.40" y="542.00" font-size="13.5" text-anchor="start" >CM<tspan font-size="9.5" dy="-5">R</tspan></text>
<rect x="82.94" y="554.34" width="4.32" height="4.32" fill="#000"/>
<text x="103.40" y="561.10" font-size="13.5" text-anchor="start" >1 x PBS</text>
<path d="M85.10,573.92L87.88,578.79L82.32,578.79Z" fill="#000"/>
<text x="103.40" y="581.30" font-size="13.5" text-anchor="start" >2 x PBS</text>
<path d="M85.10,593.83L87.86,596.90L85.10,599.97L82.34,596.90Z" fill="#000"/>
<text x="103.40" y="601.50" font-size="13.5" text-anchor="start" >3 x PBS</text>
<circle cx="79.10" cy="841.80" r="2.61" fill="#000"/>
<text x="98.50" y="846.40" font-size="14" text-anchor="start" >0 hr</text>
<rect x="76.53" y="858.53" width="5.13" height="5.13" fill="#000"/>
<text x="98.50" y="865.70" font-size="14" text-anchor="start" >1 hr</text>
<path d="M79.10,877.64L81.85,882.47L76.34,882.47Z" fill="#000"/>
<text x="98.50" y="885.00" font-size="14" text-anchor="start" >3 hrs</text>
<path d="M79.10,896.66L81.84,899.70L79.10,902.74L76.36,899.70Z" fill="#000"/>
<text x="98.50" y="904.30" font-size="14" text-anchor="start" >6 hrs</text>
<path d="M76.82,916.72L81.38,921.28M81.38,916.72L76.82,921.28" stroke="#000" stroke-width="1.23" fill="none"/>
<text x="98.50" y="923.60" font-size="14" text-anchor="start" >24 hrs</text>
<circle cx="79.10" cy="938.30" r="2.42" fill="none" stroke="#000" stroke-width="1.23"/>
<text x="98.50" y="942.90" font-size="14" text-anchor="start" >48 hrs</text>
<rect x="76.63" y="955.13" width="4.94" height="4.94" fill="none" stroke="#000" stroke-width="1.23"/>
<text x="98.50" y="962.20" font-size="14" text-anchor="start" >72 hrs (CM<tspan font-size="9.5" dy="-5">R</tspan><tspan dy="5">)</tspan></text>
</svg></body></html>
